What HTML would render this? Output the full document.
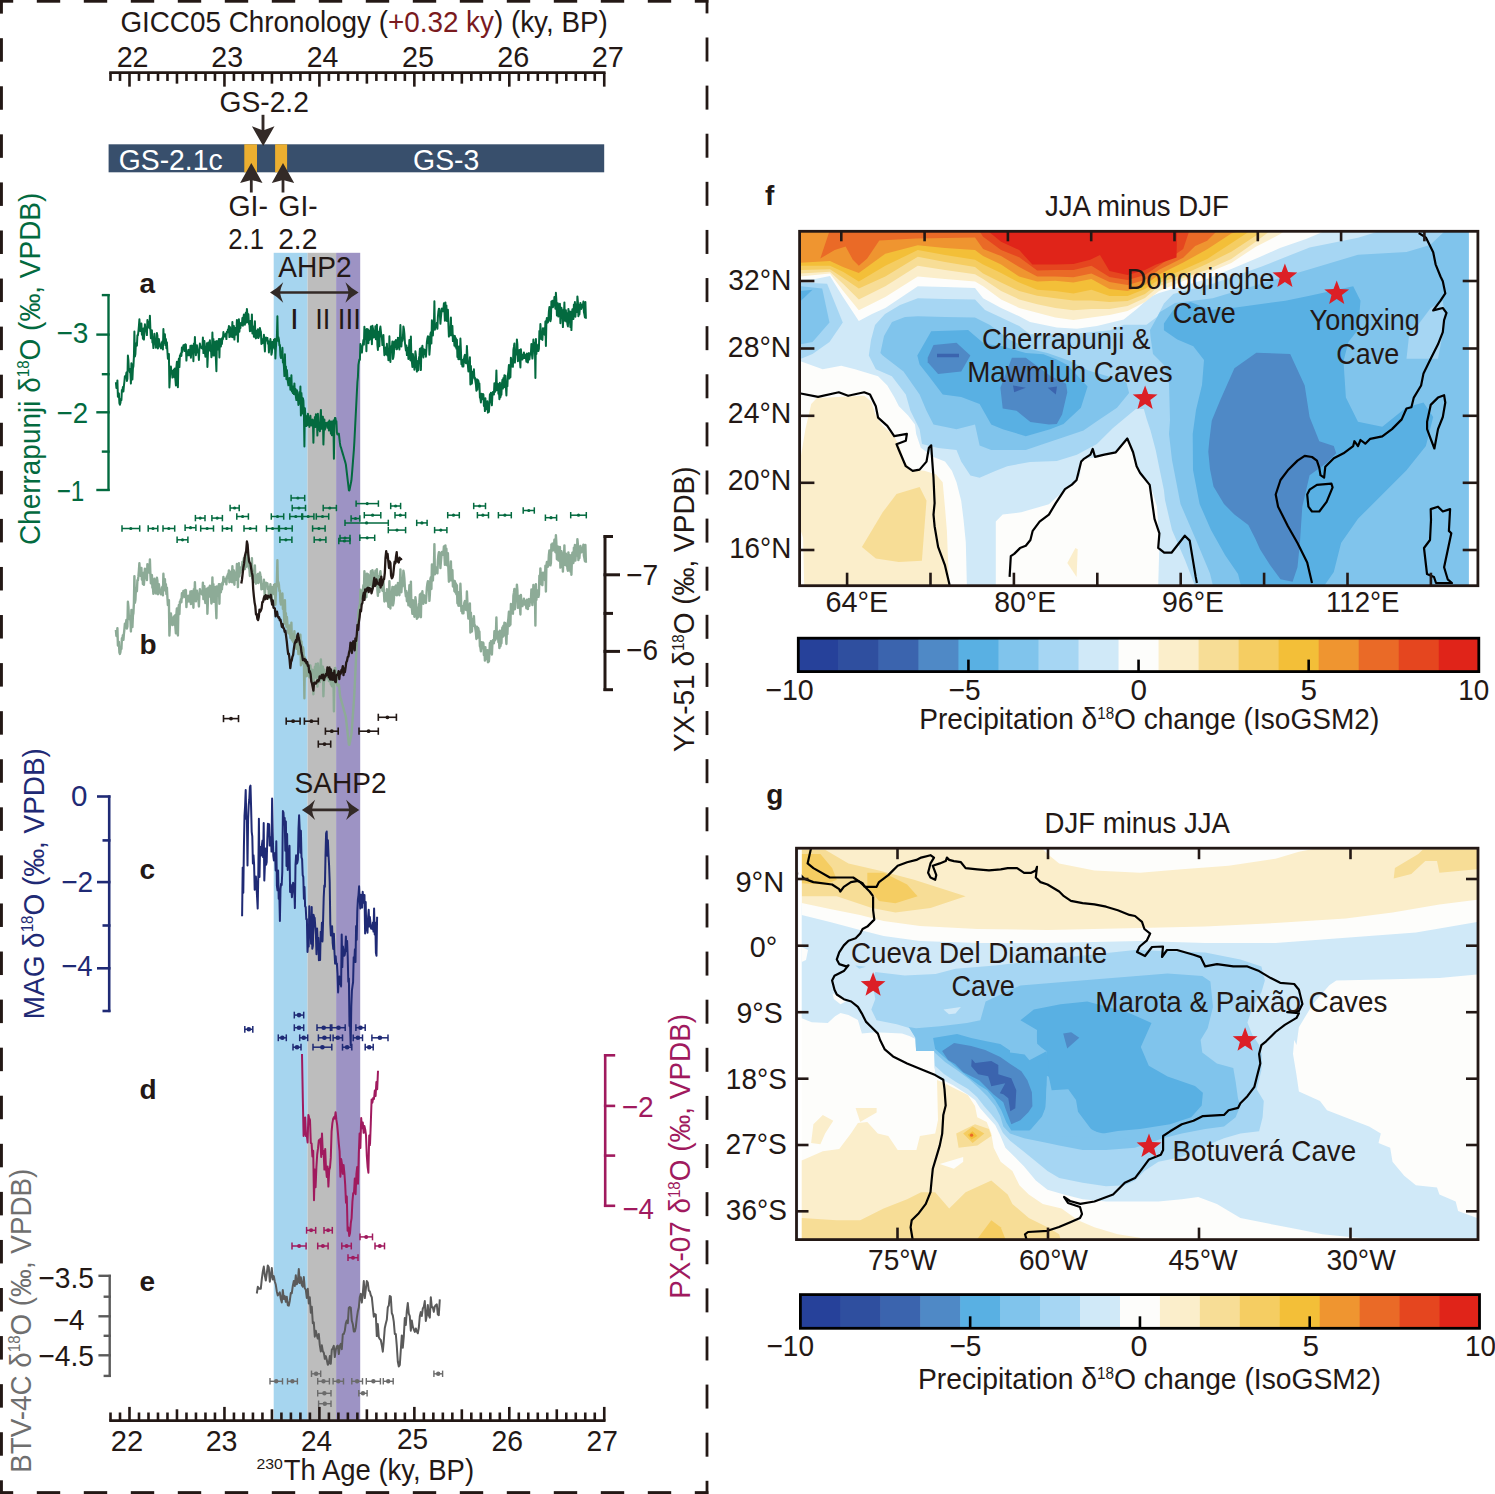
<!DOCTYPE html><html><head><meta charset="utf-8"><style>html,body{margin:0;padding:0;background:#fff;overflow:hidden}svg{display:block}</style></head><body>
<svg width="1495" height="1494" viewBox="0 0 1495 1494" font-family="'Liberation Sans', sans-serif">
<rect width="1495" height="1494" fill="#fff"/>
<rect x="273.7" y="252.8" width="33.9" height="1167" fill="#a6d5ef"/>
<rect x="307.6" y="252.8" width="28.5" height="1167" fill="#bdbdbd"/>
<rect x="336.1" y="252.8" width="24.1" height="1167" fill="#9d93c4"/>
<line x1="109.21" y1="72.65" x2="605.55" y2="72.65" stroke="#231815" stroke-width="2.8" />
<line x1="110.51" y1="72.65" x2="110.51" y2="80.95" stroke="#231815" stroke-width="2.6" />
<line x1="120.01" y1="72.65" x2="120.01" y2="80.95" stroke="#231815" stroke-width="2.6" />
<line x1="129.50" y1="72.65" x2="129.50" y2="86.65" stroke="#231815" stroke-width="2.6" />
<line x1="139.00" y1="72.65" x2="139.00" y2="80.95" stroke="#231815" stroke-width="2.6" />
<line x1="148.49" y1="72.65" x2="148.49" y2="80.95" stroke="#231815" stroke-width="2.6" />
<line x1="157.99" y1="72.65" x2="157.99" y2="80.95" stroke="#231815" stroke-width="2.6" />
<line x1="167.48" y1="72.65" x2="167.48" y2="80.95" stroke="#231815" stroke-width="2.6" />
<line x1="176.97" y1="72.65" x2="176.97" y2="83.65" stroke="#231815" stroke-width="2.6" />
<line x1="186.47" y1="72.65" x2="186.47" y2="80.95" stroke="#231815" stroke-width="2.6" />
<line x1="195.96" y1="72.65" x2="195.96" y2="80.95" stroke="#231815" stroke-width="2.6" />
<line x1="205.46" y1="72.65" x2="205.46" y2="80.95" stroke="#231815" stroke-width="2.6" />
<line x1="214.96" y1="72.65" x2="214.96" y2="80.95" stroke="#231815" stroke-width="2.6" />
<line x1="224.45" y1="72.65" x2="224.45" y2="86.65" stroke="#231815" stroke-width="2.6" />
<line x1="233.95" y1="72.65" x2="233.95" y2="80.95" stroke="#231815" stroke-width="2.6" />
<line x1="243.44" y1="72.65" x2="243.44" y2="80.95" stroke="#231815" stroke-width="2.6" />
<line x1="252.94" y1="72.65" x2="252.94" y2="80.95" stroke="#231815" stroke-width="2.6" />
<line x1="262.43" y1="72.65" x2="262.43" y2="80.95" stroke="#231815" stroke-width="2.6" />
<line x1="271.93" y1="72.65" x2="271.93" y2="83.65" stroke="#231815" stroke-width="2.6" />
<line x1="281.42" y1="72.65" x2="281.42" y2="80.95" stroke="#231815" stroke-width="2.6" />
<line x1="290.91" y1="72.65" x2="290.91" y2="80.95" stroke="#231815" stroke-width="2.6" />
<line x1="300.41" y1="72.65" x2="300.41" y2="80.95" stroke="#231815" stroke-width="2.6" />
<line x1="309.91" y1="72.65" x2="309.91" y2="80.95" stroke="#231815" stroke-width="2.6" />
<line x1="319.40" y1="72.65" x2="319.40" y2="86.65" stroke="#231815" stroke-width="2.6" />
<line x1="328.90" y1="72.65" x2="328.90" y2="80.95" stroke="#231815" stroke-width="2.6" />
<line x1="338.39" y1="72.65" x2="338.39" y2="80.95" stroke="#231815" stroke-width="2.6" />
<line x1="347.89" y1="72.65" x2="347.89" y2="80.95" stroke="#231815" stroke-width="2.6" />
<line x1="357.38" y1="72.65" x2="357.38" y2="80.95" stroke="#231815" stroke-width="2.6" />
<line x1="366.88" y1="72.65" x2="366.88" y2="83.65" stroke="#231815" stroke-width="2.6" />
<line x1="376.37" y1="72.65" x2="376.37" y2="80.95" stroke="#231815" stroke-width="2.6" />
<line x1="385.87" y1="72.65" x2="385.87" y2="80.95" stroke="#231815" stroke-width="2.6" />
<line x1="395.36" y1="72.65" x2="395.36" y2="80.95" stroke="#231815" stroke-width="2.6" />
<line x1="404.86" y1="72.65" x2="404.86" y2="80.95" stroke="#231815" stroke-width="2.6" />
<line x1="414.35" y1="72.65" x2="414.35" y2="86.65" stroke="#231815" stroke-width="2.6" />
<line x1="423.85" y1="72.65" x2="423.85" y2="80.95" stroke="#231815" stroke-width="2.6" />
<line x1="433.34" y1="72.65" x2="433.34" y2="80.95" stroke="#231815" stroke-width="2.6" />
<line x1="442.84" y1="72.65" x2="442.84" y2="80.95" stroke="#231815" stroke-width="2.6" />
<line x1="452.33" y1="72.65" x2="452.33" y2="80.95" stroke="#231815" stroke-width="2.6" />
<line x1="461.82" y1="72.65" x2="461.82" y2="83.65" stroke="#231815" stroke-width="2.6" />
<line x1="471.32" y1="72.65" x2="471.32" y2="80.95" stroke="#231815" stroke-width="2.6" />
<line x1="480.82" y1="72.65" x2="480.82" y2="80.95" stroke="#231815" stroke-width="2.6" />
<line x1="490.31" y1="72.65" x2="490.31" y2="80.95" stroke="#231815" stroke-width="2.6" />
<line x1="499.81" y1="72.65" x2="499.81" y2="80.95" stroke="#231815" stroke-width="2.6" />
<line x1="509.30" y1="72.65" x2="509.30" y2="86.65" stroke="#231815" stroke-width="2.6" />
<line x1="518.80" y1="72.65" x2="518.80" y2="80.95" stroke="#231815" stroke-width="2.6" />
<line x1="528.29" y1="72.65" x2="528.29" y2="80.95" stroke="#231815" stroke-width="2.6" />
<line x1="537.79" y1="72.65" x2="537.79" y2="80.95" stroke="#231815" stroke-width="2.6" />
<line x1="547.28" y1="72.65" x2="547.28" y2="80.95" stroke="#231815" stroke-width="2.6" />
<line x1="556.78" y1="72.65" x2="556.78" y2="83.65" stroke="#231815" stroke-width="2.6" />
<line x1="566.27" y1="72.65" x2="566.27" y2="80.95" stroke="#231815" stroke-width="2.6" />
<line x1="575.77" y1="72.65" x2="575.77" y2="80.95" stroke="#231815" stroke-width="2.6" />
<line x1="585.26" y1="72.65" x2="585.26" y2="80.95" stroke="#231815" stroke-width="2.6" />
<line x1="594.76" y1="72.65" x2="594.76" y2="80.95" stroke="#231815" stroke-width="2.6" />
<line x1="604.25" y1="72.65" x2="604.25" y2="86.65" stroke="#231815" stroke-width="2.6" />
<text x="116.64" y="67.0" font-size="29.6" fill="#231815" textLength="31.94" lengthAdjust="spacingAndGlyphs">22</text>
<text x="211.35" y="67.0" font-size="29.6" fill="#231815" textLength="31.73" lengthAdjust="spacingAndGlyphs">23</text>
<text x="306.66" y="67.0" font-size="29.6" fill="#231815" textLength="31.63" lengthAdjust="spacingAndGlyphs">24</text>
<text x="401.94" y="67.0" font-size="29.6" fill="#231815" textLength="31.94" lengthAdjust="spacingAndGlyphs">25</text>
<text x="497.14" y="67.0" font-size="29.6" fill="#231815" textLength="32.05" lengthAdjust="spacingAndGlyphs">26</text>
<text x="591.74" y="67.0" font-size="29.6" fill="#231815" textLength="32.16" lengthAdjust="spacingAndGlyphs">27</text>
<text x="120.4" y="32.2" font-size="29.6" fill="#231815" textLength="487.4" lengthAdjust="spacingAndGlyphs">GICC05 Chronology (<tspan fill="#7a1a1e">+0.32 ky</tspan>) (ky, BP)</text>
<rect x="108.6" y="144.3" width="495.6" height="28" fill="#384f6c"/>
<rect x="244.3" y="144.3" width="12.7" height="28" fill="#ecaf30"/>
<rect x="275.1" y="144.3" width="12.0" height="28" fill="#ecaf30"/>
<text x="118.77" y="169.6" font-size="29.6" fill="#fff" textLength="103.77" lengthAdjust="spacingAndGlyphs">GS-2.1c</text>
<text x="413.06" y="169.6" font-size="29.6" fill="#fff" textLength="66.27" lengthAdjust="spacingAndGlyphs">GS-3</text>
<text x="219.57" y="112.4" font-size="29.6" fill="#231815" textLength="89.33" lengthAdjust="spacingAndGlyphs">GS-2.2</text>
<line x1="263.00" y1="114.80" x2="263.00" y2="131.00" stroke="#332a27" stroke-width="2.9" />
<path d="M251.9,126.3 L263.1,130.4 L274.5,126.3 L263.2,146.1 Z" fill="#332a27"/>
<path d="M240.10000000000002,182.9 L251.3,179.9 L262.5,182.9 L251.3,163 Z" fill="#332a27"/>
<line x1="251.30" y1="180.00" x2="251.30" y2="192.50" stroke="#332a27" stroke-width="2.8" />
<path d="M271.8,182.9 L283.0,179.9 L294.2,182.9 L283.0,163 Z" fill="#332a27"/>
<line x1="283.00" y1="180.00" x2="283.00" y2="192.50" stroke="#332a27" stroke-width="2.8" />
<text x="228.46" y="215.6" font-size="29.6" fill="#231815" textLength="39.49" lengthAdjust="spacingAndGlyphs">GI-</text>
<text x="278.57" y="215.6" font-size="29.6" fill="#231815" textLength="39.07" lengthAdjust="spacingAndGlyphs">GI-</text>
<text x="228.30" y="249.3" font-size="29.6" fill="#231815" textLength="35.65" lengthAdjust="spacingAndGlyphs">2.1</text>
<text x="278.17" y="249.3" font-size="29.6" fill="#231815" textLength="39.21" lengthAdjust="spacingAndGlyphs">2.2</text>
<text x="278.31" y="277.4" font-size="29.6" fill="#231815" textLength="73.35" lengthAdjust="spacingAndGlyphs">AHP2</text>
<line x1="276.00" y1="292.50" x2="352.60" y2="292.50" stroke="#332a27" stroke-width="2.7" />
<path d="M270.0,292.5 Q277.5,288.3 283.2,282.3 Q280.5,288.5 280.0,292.5 Q280.5,296.5 283.2,302.7 Q277.5,296.7 270.0,292.5 Z" fill="#332a27"/>
<path d="M358.6,292.5 Q351.1,288.3 345.40000000000003,282.3 Q348.1,288.5 348.6,292.5 Q348.1,296.5 345.40000000000003,302.7 Q351.1,296.7 358.6,292.5 Z" fill="#332a27"/>
<text x="289.91" y="328.6" font-size="29.6" fill="#231815" textLength="8.81" lengthAdjust="spacingAndGlyphs">I</text>
<text x="315.32" y="328.6" font-size="29.6" fill="#231815" textLength="15.10" lengthAdjust="spacingAndGlyphs">II</text>
<text x="337.77" y="328.6" font-size="29.6" fill="#231815" textLength="23.13" lengthAdjust="spacingAndGlyphs">III</text>
<text x="139.6" y="292.5" font-size="28" fill="#231815" text-anchor="start" font-weight="bold" >a</text>
<text x="139.6" y="653.7" font-size="28" fill="#231815" text-anchor="start" font-weight="bold" >b</text>
<text x="139.6" y="878.6" font-size="28" fill="#231815" text-anchor="start" font-weight="bold" >c</text>
<text x="139.6" y="1098.8" font-size="28" fill="#231815" text-anchor="start" font-weight="bold" >d</text>
<text x="139.6" y="1290.6" font-size="28" fill="#231815" text-anchor="start" font-weight="bold" >e</text>
<line x1="108.50" y1="294.10" x2="108.50" y2="491.00" stroke="#036a3f" stroke-width="2.4" />
<line x1="96.30" y1="334.60" x2="109.70" y2="334.60" stroke="#036a3f" stroke-width="2.4" />
<line x1="96.30" y1="412.30" x2="109.70" y2="412.30" stroke="#036a3f" stroke-width="2.4" />
<line x1="96.30" y1="490.00" x2="109.70" y2="490.00" stroke="#036a3f" stroke-width="2.4" />
<line x1="101.80" y1="295.10" x2="109.70" y2="295.10" stroke="#036a3f" stroke-width="2.4" />
<line x1="101.80" y1="374.20" x2="109.70" y2="374.20" stroke="#036a3f" stroke-width="2.4" />
<line x1="101.80" y1="451.60" x2="109.70" y2="451.60" stroke="#036a3f" stroke-width="2.4" />
<text x="56.47" y="343.4" font-size="29.6" fill="#036a3f" textLength="32.01" lengthAdjust="spacingAndGlyphs">−3</text>
<text x="56.49" y="422.8" font-size="29.6" fill="#036a3f" textLength="31.56" lengthAdjust="spacingAndGlyphs">−2</text>
<text x="56.65" y="500.6" font-size="29.6" fill="#036a3f" textLength="27.63" lengthAdjust="spacingAndGlyphs">−1</text>
<text transform="translate(39.8,545.1) rotate(-90)" font-size="29.6" fill="#036a3f" textLength="352.4" lengthAdjust="spacingAndGlyphs">Cherrapunji δ<tspan font-size="16" dy="-10.5">18</tspan><tspan dy="10.5">O (‰, VPDB)</tspan></text>
<path d="M115.9,382.1 L116.4,387.9 L116.9,387.7 L117.4,380.4 L117.9,396.8 L118.4,396.8 L118.9,393.5 L119.4,403.2 L119.9,404.7 L120.4,403.0 L120.9,399.1 L121.4,400.1 L121.9,389.9 L122.4,391.2 L122.9,387.0 L123.4,391.5 L123.9,385.8 L124.4,381.5 L124.9,376.2 L125.4,377.2 L125.9,376.6 L126.4,372.6 L126.9,380.9 L127.4,378.8 L127.9,355.5 L128.4,360.3 L128.9,370.6 L129.4,368.8 L129.9,372.4 L130.4,372.1 L130.9,383.6 L131.4,363.3 L131.9,366.8 L132.4,379.5 L132.9,368.6 L133.4,366.4 L133.9,356.9 L134.4,331.4 L134.9,356.6 L135.4,354.0 L135.9,343.5 L136.4,344.6 L136.9,345.6 L137.4,335.2 L137.9,335.4 L138.4,331.6 L138.9,326.2 L139.4,319.2 L139.9,327.6 L140.4,331.0 L140.9,329.1 L141.4,323.6 L141.9,334.8 L142.4,328.7 L142.9,338.8 L143.4,328.4 L143.9,339.6 L144.4,332.8 L144.9,324.2 L145.4,329.0 L145.9,330.2 L146.4,330.6 L146.9,335.1 L147.4,320.0 L147.9,327.1 L148.4,321.9 L148.9,325.3 L149.4,328.2 L149.9,315.7 L150.4,329.8 L150.9,338.2 L151.4,331.2 L151.9,330.4 L152.4,342.4 L152.9,341.7 L153.4,348.1 L153.9,340.9 L154.4,333.8 L154.9,342.3 L155.4,340.2 L155.9,347.8 L156.4,344.2 L156.9,332.9 L157.4,335.6 L157.9,348.5 L158.4,347.2 L158.9,339.0 L159.4,343.0 L159.9,345.8 L160.4,345.9 L160.9,348.4 L161.4,344.6 L161.9,342.4 L162.4,341.4 L162.9,349.5 L163.4,329.1 L163.9,342.1 L164.4,343.2 L164.9,334.2 L165.4,345.1 L165.9,339.0 L166.4,348.3 L166.9,342.2 L167.4,351.2 L167.9,358.7 L168.4,357.6 L168.9,354.0 L169.4,387.4 L169.9,378.4 L170.4,369.5 L170.9,366.5 L171.4,372.1 L171.9,370.6 L172.4,377.6 L172.9,373.0 L173.4,373.4 L173.9,369.5 L174.4,377.3 L174.9,368.5 L175.4,379.5 L175.9,385.4 L176.4,367.1 L176.9,361.8 L177.4,378.1 L177.9,387.3 L178.4,362.7 L178.9,358.5 L179.4,367.1 L179.9,355.6 L180.4,355.0 L180.9,353.3 L181.4,356.0 L181.9,347.5 L182.4,351.9 L182.9,349.3 L183.4,345.3 L183.9,348.7 L184.4,345.0 L184.9,351.1 L185.4,344.3 L185.9,344.7 L186.4,360.6 L186.9,351.5 L187.4,351.6 L187.9,355.3 L188.4,349.7 L188.9,351.1 L189.4,355.3 L189.9,354.6 L190.4,345.8 L190.9,357.8 L191.4,348.7 L191.9,345.5 L192.4,346.2 L192.9,349.0 L193.4,361.2 L193.9,343.6 L194.4,351.5 L194.9,337.0 L195.4,349.9 L195.9,355.2 L196.4,347.9 L196.9,345.2 L197.4,350.2 L197.9,352.8 L198.4,352.2 L198.9,360.0 L199.4,348.8 L199.9,343.6 L200.4,346.3 L200.9,346.7 L201.4,348.0 L201.9,347.3 L202.4,348.7 L202.9,337.5 L203.4,353.1 L203.9,344.5 L204.4,341.0 L204.9,352.3 L205.4,356.7 L205.9,351.7 L206.4,349.8 L206.9,343.2 L207.4,366.9 L207.9,354.7 L208.4,342.4 L208.9,344.8 L209.4,350.3 L209.9,340.3 L210.4,351.0 L210.9,347.0 L211.4,357.2 L211.9,355.4 L212.4,332.5 L212.9,349.3 L213.4,338.9 L213.9,355.6 L214.4,349.6 L214.9,351.7 L215.4,341.6 L215.9,359.3 L216.4,371.2 L216.9,341.1 L217.4,349.8 L217.9,343.1 L218.4,347.0 L218.9,338.9 L219.4,357.4 L219.9,339.1 L220.4,342.4 L220.9,346.5 L221.4,339.0 L221.9,343.9 L222.4,337.5 L222.9,339.3 L223.4,332.1 L223.9,335.8 L224.4,336.5 L224.9,334.9 L225.4,336.5 L225.9,333.5 L226.4,339.1 L226.9,331.7 L227.4,332.7 L227.9,329.6 L228.4,330.5 L228.9,326.0 L229.4,337.1 L229.9,327.0 L230.4,329.5 L230.9,336.4 L231.4,336.8 L231.9,331.9 L232.4,322.0 L232.9,337.2 L233.4,336.2 L233.9,326.0 L234.4,339.6 L234.9,330.6 L235.4,328.0 L235.9,334.7 L236.4,332.1 L236.9,319.9 L237.4,321.5 L237.9,341.7 L238.4,325.9 L238.9,319.3 L239.4,331.7 L239.9,324.8 L240.4,328.1 L240.9,323.1 L241.4,323.9 L241.9,324.9 L242.4,317.9 L242.9,325.8 L243.4,317.8 L243.9,314.5 L244.4,319.4 L244.9,324.7 L245.4,315.8 L245.9,312.5 L246.4,322.6 L246.9,308.9 L247.4,314.4 L247.9,322.0 L248.4,314.3 L248.9,323.9 L249.4,324.3 L249.9,331.2 L250.4,321.0 L250.9,323.8 L251.4,330.7 L251.9,314.4 L252.4,333.5 L252.9,326.4 L253.4,326.6 L253.9,336.8 L254.4,331.7 L254.9,321.3 L255.4,336.6 L255.9,338.4 L256.4,330.8 L256.9,332.3 L257.4,337.4 L257.9,329.2 L258.4,338.0 L258.9,336.9 L259.4,333.6 L259.9,327.9 L260.4,330.6 L260.9,331.9 L261.4,343.9 L261.9,339.0 L262.4,343.3 L262.9,339.7 L263.4,340.9 L263.9,334.8 L264.4,344.1 L264.9,351.4 L265.4,338.9 L265.9,337.5 L266.4,340.6 L266.9,339.0 L267.4,338.0 L267.9,343.6 L268.4,341.3 L268.9,352.4 L269.4,344.0 L269.9,346.5 L270.4,339.1 L270.9,343.6 L271.4,354.8 L271.9,352.5 L272.4,341.9 L272.9,345.1 L273.4,347.2 L273.9,339.7 L274.4,348.6 L274.9,339.0 L275.4,358.4 L275.9,347.6 L276.4,341.0 L276.9,336.3 L277.4,316.3 L277.9,340.7 L278.4,337.2 L278.9,339.4 L279.4,345.4 L279.9,344.9 L280.4,355.4 L280.9,358.1 L281.4,352.7 L281.9,357.0 L282.4,347.7 L282.9,362.4 L283.4,360.7 L283.9,366.3 L284.4,376.1 L284.9,354.2 L285.4,372.3 L285.9,366.4 L286.4,379.2 L286.9,369.9 L287.4,377.1 L287.9,382.1 L288.4,385.3 L288.9,382.6 L289.4,378.0 L289.9,380.1 L290.4,389.7 L290.9,384.9 L291.4,375.2 L291.9,391.5 L292.4,389.5 L292.9,393.0 L293.4,386.2 L293.9,394.1 L294.4,383.4 L294.9,394.4 L295.4,388.8 L295.9,397.0 L296.4,400.0 L296.9,390.2 L297.4,395.4 L297.9,396.9 L298.4,404.9 L298.9,402.9 L299.4,391.9 L299.9,403.3 L300.4,386.6 L300.9,415.4 L301.4,392.9 L301.9,400.9 L302.4,413.5 L302.9,398.3 L303.4,400.7 L303.9,412.7 L304.4,446.5 L304.9,408.2 L305.4,417.0 L305.9,415.8 L306.4,425.9 L306.9,417.9 L307.4,425.2 L307.9,413.7 L308.4,418.3 L308.9,419.1 L309.4,426.9 L309.9,423.7 L310.4,415.7 L310.9,424.7 L311.4,425.5 L311.9,420.3 L312.4,419.6 L312.9,420.2 L313.4,442.7 L313.9,423.0 L314.4,423.5 L314.9,416.9 L315.4,427.0 L315.9,414.2 L316.4,419.5 L316.9,420.2 L317.4,435.6 L317.9,413.7 L318.4,427.2 L318.9,429.8 L319.4,426.3 L319.9,431.3 L320.4,417.8 L320.9,409.9 L321.4,428.7 L321.9,416.6 L322.4,422.0 L322.9,416.7 L323.4,444.6 L323.9,429.3 L324.4,419.6 L324.9,429.6 L325.4,424.7 L325.9,423.1 L326.4,424.4 L326.9,422.7 L327.4,427.8 L327.9,426.0 L328.4,422.0 L328.9,430.4 L329.4,420.5 L329.9,426.1 L330.4,427.0 L330.9,433.6 L331.4,421.4 L331.9,435.3 L332.4,425.7 L332.9,423.5 L333.4,420.6 L333.9,458.8 L334.4,425.2 L334.9,418.1 L335.4,418.0 L335.9,421.8 L336.4,421.3 L336.9,432.5 L337.4,434.5 L337.9,433.7 L338.4,433.7 L338.9,433.8 L339.4,438.5 L339.9,442.9 L340.4,446.1 L340.9,447.3 L341.4,449.0 L341.9,450.7 L342.4,452.4 L342.9,454.1 L343.4,455.8 L343.9,457.5 L344.4,459.2 L344.9,460.9 L345.4,462.6 L345.9,464.8 L346.4,469.1 L346.9,473.3 L347.4,477.6 L347.9,481.8 L348.4,486.1 L348.9,490.3 L349.4,490.5 L349.9,488.0 L350.4,485.5 L350.9,483.0 L351.4,480.5 L351.9,474.9 L352.4,468.6 L352.9,462.2 L353.4,455.9 L353.9,449.5 L354.4,441.1 L354.9,431.2 L355.4,421.4 L355.9,411.5 L356.4,401.7 L356.9,391.8 L357.4,382.0 L357.9,377.1 L358.4,364.9 L358.9,362.0 L359.4,359.4 L359.9,359.8 L360.4,344.1 L360.9,350.2 L361.4,347.9 L361.9,352.6 L362.4,346.2 L362.9,344.5 L363.4,339.9 L363.9,344.6 L364.4,326.7 L364.9,334.9 L365.4,338.7 L365.9,329.8 L366.4,351.3 L366.9,328.9 L367.4,330.5 L367.9,329.4 L368.4,343.3 L368.9,330.6 L369.4,339.9 L369.9,339.0 L370.4,336.6 L370.9,326.6 L371.4,330.6 L371.9,344.3 L372.4,325.7 L372.9,328.1 L373.4,331.9 L373.9,337.6 L374.4,333.8 L374.9,336.8 L375.4,326.3 L375.9,339.3 L376.4,337.6 L376.9,324.8 L377.4,344.8 L377.9,350.0 L378.4,331.7 L378.9,337.4 L379.4,346.3 L379.9,329.2 L380.4,326.6 L380.9,331.5 L381.4,336.6 L381.9,337.2 L382.4,345.1 L382.9,343.6 L383.4,334.9 L383.9,346.7 L384.4,355.3 L384.9,352.1 L385.4,352.1 L385.9,347.3 L386.4,354.5 L386.9,343.7 L387.4,355.5 L387.9,351.5 L388.4,360.3 L388.9,357.4 L389.4,336.3 L389.9,356.1 L390.4,361.9 L390.9,346.5 L391.4,349.2 L391.9,347.0 L392.4,341.6 L392.9,358.9 L393.4,357.2 L393.9,353.1 L394.4,341.6 L394.9,346.1 L395.4,347.0 L395.9,340.1 L396.4,349.3 L396.9,349.3 L397.4,347.7 L397.9,337.8 L398.4,340.7 L398.9,338.3 L399.4,349.5 L399.9,338.7 L400.4,325.0 L400.9,338.2 L401.4,346.5 L401.9,338.2 L402.4,340.9 L402.9,337.3 L403.4,326.4 L403.9,328.9 L404.4,333.9 L404.9,342.3 L405.4,346.5 L405.9,350.4 L406.4,345.5 L406.9,355.1 L407.4,348.9 L407.9,347.8 L408.4,359.0 L408.9,349.6 L409.4,339.9 L409.9,351.7 L410.4,360.3 L410.9,336.5 L411.4,360.6 L411.9,361.9 L412.4,367.0 L412.9,354.0 L413.4,359.9 L413.9,358.9 L414.4,369.7 L414.9,363.8 L415.4,351.3 L415.9,355.4 L416.4,364.6 L416.9,371.6 L417.4,361.9 L417.9,361.0 L418.4,370.2 L418.9,358.1 L419.4,355.9 L419.9,348.7 L420.4,353.9 L420.9,370.1 L421.4,347.5 L421.9,355.6 L422.4,345.7 L422.9,353.0 L423.4,357.5 L423.9,349.3 L424.4,354.1 L424.9,352.9 L425.4,350.0 L425.9,356.7 L426.4,349.7 L426.9,341.9 L427.4,338.4 L427.9,336.2 L428.4,343.1 L428.9,337.0 L429.4,354.7 L429.9,348.0 L430.4,334.2 L430.9,332.3 L431.4,343.6 L431.9,320.3 L432.4,328.0 L432.9,335.5 L433.4,322.8 L433.9,324.3 L434.4,301.2 L434.9,329.7 L435.4,325.7 L435.9,326.6 L436.4,327.1 L436.9,322.8 L437.4,328.8 L437.9,316.6 L438.4,311.5 L438.9,308.7 L439.4,308.9 L439.9,314.8 L440.4,323.8 L440.9,317.7 L441.4,312.2 L441.9,308.5 L442.4,311.1 L442.9,311.2 L443.4,309.4 L443.9,303.3 L444.4,310.2 L444.9,320.7 L445.4,302.4 L445.9,315.7 L446.4,305.4 L446.9,321.0 L447.4,316.7 L447.9,309.8 L448.4,324.6 L448.9,336.6 L449.4,327.4 L449.9,335.3 L450.4,329.0 L450.9,317.5 L451.4,335.2 L451.9,331.0 L452.4,325.9 L452.9,341.1 L453.4,339.4 L453.9,335.8 L454.4,345.6 L454.9,336.1 L455.4,346.8 L455.9,338.2 L456.4,348.6 L456.9,339.8 L457.4,357.0 L457.9,350.7 L458.4,359.2 L458.9,346.5 L459.4,349.9 L459.9,359.3 L460.4,338.5 L460.9,350.1 L461.4,364.3 L461.9,362.1 L462.4,366.5 L462.9,359.8 L463.4,366.5 L463.9,359.6 L464.4,356.3 L464.9,354.9 L465.4,362.5 L465.9,363.2 L466.4,363.3 L466.9,345.9 L467.4,356.0 L467.9,365.7 L468.4,371.4 L468.9,366.6 L469.4,365.4 L469.9,357.2 L470.4,384.5 L470.9,365.9 L471.4,383.7 L471.9,383.5 L472.4,376.2 L472.9,371.6 L473.4,376.5 L473.9,369.2 L474.4,378.5 L474.9,377.6 L475.4,381.4 L475.9,384.6 L476.4,390.7 L476.9,379.2 L477.4,389.6 L477.9,379.9 L478.4,380.9 L478.9,384.2 L479.4,383.6 L479.9,397.3 L480.4,398.6 L480.9,402.4 L481.4,393.7 L481.9,399.4 L482.4,395.8 L482.9,393.9 L483.4,394.6 L483.9,405.9 L484.4,399.0 L484.9,411.1 L485.4,398.3 L485.9,409.6 L486.4,406.2 L486.9,405.7 L487.4,401.2 L487.9,412.7 L488.4,409.2 L488.9,411.9 L489.4,404.3 L489.9,394.3 L490.4,398.9 L490.9,392.8 L491.4,401.8 L491.9,405.3 L492.4,395.2 L492.9,391.9 L493.4,392.2 L493.9,394.6 L494.4,383.3 L494.9,392.1 L495.4,391.2 L495.9,385.5 L496.4,370.4 L496.9,389.9 L497.4,383.8 L497.9,383.8 L498.4,393.7 L498.9,390.3 L499.4,399.2 L499.9,382.8 L500.4,397.4 L500.9,394.7 L501.4,394.8 L501.9,384.3 L502.4,379.8 L502.9,388.6 L503.4,378.0 L503.9,386.7 L504.4,375.3 L504.9,387.3 L505.4,375.7 L505.9,386.9 L506.4,395.4 L506.9,382.0 L507.4,386.1 L507.9,375.0 L508.4,371.1 L508.9,365.1 L509.4,378.4 L509.9,369.3 L510.4,377.3 L510.9,357.7 L511.4,361.2 L511.9,360.8 L512.4,366.6 L512.9,366.8 L513.4,349.8 L513.9,347.0 L514.4,343.4 L514.9,362.6 L515.4,354.0 L515.9,350.7 L516.4,354.6 L516.9,339.4 L517.4,344.7 L517.9,361.3 L518.4,358.2 L518.9,356.9 L519.4,350.0 L519.9,360.0 L520.4,367.5 L520.9,349.2 L521.4,357.1 L521.9,354.5 L522.4,359.6 L522.9,357.7 L523.4,356.9 L523.9,352.5 L524.4,358.1 L524.9,354.6 L525.4,357.7 L525.9,357.9 L526.4,361.7 L526.9,353.5 L527.4,354.5 L527.9,362.5 L528.4,353.9 L528.9,353.1 L529.4,359.4 L529.9,355.1 L530.4,353.4 L530.9,353.6 L531.4,344.0 L531.9,353.9 L532.4,358.6 L532.9,353.4 L533.4,339.6 L533.9,350.4 L534.4,342.5 L534.9,346.1 L535.4,378.0 L535.9,338.9 L536.4,353.9 L536.9,344.6 L537.4,349.4 L537.9,347.8 L538.4,351.0 L538.9,348.7 L539.4,330.9 L539.9,338.9 L540.4,324.1 L540.9,333.2 L541.4,339.0 L541.9,338.9 L542.4,339.9 L542.9,328.2 L543.4,331.2 L543.9,328.4 L544.4,334.3 L544.9,335.0 L545.4,321.6 L545.9,346.0 L546.4,321.4 L546.9,317.9 L547.4,322.7 L547.9,322.4 L548.4,319.9 L548.9,311.3 L549.4,307.1 L549.9,313.3 L550.4,321.2 L550.9,319.1 L551.4,301.4 L551.9,302.0 L552.4,300.7 L552.9,307.2 L553.4,304.8 L553.9,304.9 L554.4,297.0 L554.9,303.5 L555.4,308.7 L555.9,292.8 L556.4,300.7 L556.9,315.4 L557.4,303.0 L557.9,303.5 L558.4,316.6 L558.9,314.5 L559.4,312.8 L559.9,303.8 L560.4,323.3 L560.9,312.6 L561.4,307.7 L561.9,310.1 L562.4,310.1 L562.9,327.1 L563.4,315.8 L563.9,315.5 L564.4,302.4 L564.9,320.7 L565.4,310.2 L565.9,310.3 L566.4,321.6 L566.9,313.0 L567.4,324.1 L567.9,326.4 L568.4,308.9 L568.9,319.7 L569.4,311.3 L569.9,321.2 L570.4,327.1 L570.9,311.8 L571.4,330.1 L571.9,315.9 L572.4,309.3 L572.9,314.6 L573.4,319.0 L573.9,304.4 L574.4,311.7 L574.9,302.0 L575.4,316.7 L575.9,309.0 L576.4,304.2 L576.9,312.0 L577.4,296.4 L577.9,301.8 L578.4,316.2 L578.9,304.7 L579.4,314.4 L579.9,307.8 L580.4,302.9 L580.9,306.3 L581.4,308.9 L581.9,306.5 L582.4,304.5 L582.9,305.4 L583.4,301.6 L583.9,312.1 L584.4,314.4 L584.9,317.2 L585.4,302.0 L585.9,318.7" fill="none" stroke="#036a3f" stroke-width="2.0" stroke-linejoin="round" />
<line x1="605.00" y1="535.20" x2="605.00" y2="691.00" stroke="#231815" stroke-width="3.0" />
<line x1="603.50" y1="574.80" x2="620.00" y2="574.80" stroke="#231815" stroke-width="3.0" />
<line x1="603.50" y1="651.40" x2="620.00" y2="651.40" stroke="#231815" stroke-width="3.0" />
<line x1="603.50" y1="536.50" x2="613.00" y2="536.50" stroke="#231815" stroke-width="3.0" />
<line x1="603.50" y1="613.40" x2="613.00" y2="613.40" stroke="#231815" stroke-width="3.0" />
<line x1="603.50" y1="689.70" x2="613.00" y2="689.70" stroke="#231815" stroke-width="3.0" />
<text x="626.07" y="585.0" font-size="29.6" fill="#231815" textLength="32.11" lengthAdjust="spacingAndGlyphs">−7</text>
<text x="626.08" y="660.2" font-size="29.6" fill="#231815" textLength="31.90" lengthAdjust="spacingAndGlyphs">−6</text>
<text transform="translate(694.0,752.1) rotate(-90)" font-size="29.6" fill="#231815" textLength="285.7" lengthAdjust="spacingAndGlyphs">YX-51 δ<tspan font-size="16" dy="-10.5">18</tspan><tspan dy="10.5">O (‰, VPDB)</tspan></text>
<path d="M115.9,630.0 L116.4,636.0 L116.9,635.8 L117.4,628.1 L117.9,645.5 L118.4,645.5 L118.9,642.0 L119.4,652.3 L119.9,653.9 L120.4,652.1 L120.9,648.0 L121.4,649.0 L121.9,638.2 L122.4,639.6 L122.9,635.2 L123.4,639.9 L123.9,633.8 L124.4,629.3 L124.9,623.7 L125.4,624.8 L125.9,624.1 L126.4,619.9 L126.9,628.6 L127.4,626.4 L127.9,601.8 L128.4,606.8 L128.9,617.7 L129.4,615.8 L129.9,619.6 L130.4,619.3 L130.9,631.5 L131.4,610.0 L131.9,613.7 L132.4,627.1 L132.9,615.6 L133.4,613.3 L133.9,603.2 L134.4,576.1 L134.9,602.9 L135.4,600.1 L135.9,589.0 L136.4,590.2 L136.9,591.2 L137.4,580.2 L137.9,580.4 L138.4,576.4 L138.9,570.7 L139.4,563.2 L139.9,572.1 L140.4,575.7 L140.9,573.7 L141.4,567.9 L141.9,579.7 L142.4,573.3 L142.9,584.1 L143.4,573.0 L143.9,584.9 L144.4,577.7 L144.9,568.6 L145.4,573.6 L145.9,575.0 L146.4,575.3 L146.9,580.1 L147.4,564.1 L147.9,571.6 L148.4,566.2 L148.9,569.7 L149.4,572.7 L149.9,559.5 L150.4,574.5 L150.9,583.4 L151.4,575.9 L151.9,575.1 L152.4,587.8 L152.9,587.1 L153.4,593.8 L153.9,586.2 L154.4,578.8 L154.9,587.8 L155.4,585.6 L155.9,593.5 L156.4,589.7 L156.9,577.8 L157.4,580.6 L157.9,594.3 L158.4,592.9 L158.9,584.3 L159.4,588.5 L159.9,591.4 L160.4,591.5 L160.9,594.2 L161.4,590.2 L161.9,587.9 L162.4,586.8 L162.9,595.4 L163.4,573.7 L163.9,587.6 L164.4,588.7 L164.9,579.1 L165.4,590.7 L165.9,584.2 L166.4,594.1 L166.9,587.6 L167.4,597.2 L167.9,605.1 L168.4,604.0 L168.9,600.1 L169.4,635.6 L169.9,626.0 L170.4,616.6 L170.9,613.4 L171.4,619.4 L171.9,617.7 L172.4,625.1 L172.9,620.3 L173.4,620.7 L173.9,616.5 L174.4,624.8 L174.9,615.5 L175.4,627.2 L175.9,633.4 L176.4,614.0 L176.9,608.4 L177.4,625.7 L177.9,635.5 L178.4,609.4 L178.9,604.9 L179.4,614.1 L179.9,601.8 L180.4,601.2 L180.9,599.3 L181.4,602.2 L181.9,593.2 L182.4,597.9 L182.9,595.1 L183.4,590.9 L183.9,594.6 L184.4,590.6 L184.9,597.1 L185.4,589.9 L185.9,590.3 L186.4,607.1 L186.9,597.4 L187.4,597.6 L187.9,601.5 L188.4,595.6 L188.9,597.0 L189.4,601.5 L189.9,600.8 L190.4,591.4 L190.9,604.1 L191.4,594.5 L191.9,591.1 L192.4,591.8 L192.9,594.9 L193.4,607.8 L193.9,589.1 L194.4,597.5 L194.9,582.2 L195.4,595.8 L195.9,601.4 L196.4,593.6 L196.9,590.8 L197.4,596.1 L197.9,598.8 L198.4,598.3 L198.9,606.5 L199.4,594.7 L199.9,589.1 L200.4,591.9 L200.9,592.4 L201.4,593.8 L201.9,593.0 L202.4,594.5 L202.9,582.6 L203.4,599.1 L203.9,590.1 L204.4,586.3 L204.9,598.3 L205.4,603.0 L205.9,597.7 L206.4,595.7 L206.9,588.7 L207.4,613.8 L207.9,600.9 L208.4,587.8 L208.9,590.3 L209.4,596.2 L209.9,585.6 L210.4,597.0 L210.9,592.7 L211.4,603.5 L211.9,601.6 L212.4,577.4 L212.9,595.2 L213.4,584.1 L213.9,601.8 L214.4,595.4 L214.9,597.7 L215.4,587.0 L215.9,605.7 L216.4,618.3 L216.9,586.4 L217.4,595.6 L217.9,588.6 L218.4,592.7 L218.9,584.1 L219.4,603.7 L219.9,584.3 L220.4,587.8 L220.9,592.2 L221.4,584.3 L221.9,589.4 L222.4,582.6 L222.9,584.6 L223.4,576.9 L223.9,580.9 L224.4,581.5 L224.9,579.8 L225.4,581.5 L225.9,578.4 L226.4,584.4 L226.9,576.5 L227.4,577.6 L227.9,574.2 L228.4,575.2 L228.9,570.5 L229.4,582.3 L229.9,571.5 L230.4,574.2 L230.9,581.5 L231.4,581.9 L231.9,576.7 L232.4,566.2 L232.9,582.3 L233.4,581.3 L233.9,570.5 L234.4,584.8 L234.9,575.3 L235.4,572.6 L235.9,579.7 L236.4,576.9 L236.9,564.0 L237.4,565.7 L237.9,587.1 L238.4,570.4 L238.9,563.3 L239.4,576.5 L239.9,569.2 L240.4,572.7 L240.9,567.4 L241.4,568.3 L241.9,569.3 L242.4,561.9 L242.9,570.3 L243.4,561.8 L243.9,558.2 L244.4,563.5 L244.9,569.1 L245.4,559.6 L245.9,556.1 L246.4,566.8 L246.9,552.3 L247.4,558.1 L247.9,566.2 L248.4,558.1 L248.9,568.2 L249.4,568.7 L249.9,576.0 L250.4,565.2 L250.9,568.1 L251.4,575.4 L251.9,558.2 L252.4,578.4 L252.9,570.8 L253.4,571.1 L253.9,581.9 L254.4,576.5 L254.9,565.5 L255.4,581.7 L255.9,583.6 L256.4,575.5 L256.9,577.1 L257.4,582.6 L257.9,573.9 L258.4,583.1 L258.9,582.0 L259.4,578.6 L259.9,572.5 L260.4,575.3 L260.9,576.7 L261.4,589.4 L261.9,584.2 L262.4,588.8 L262.9,585.0 L263.4,586.2 L263.9,579.8 L264.4,589.7 L264.9,597.4 L265.4,584.1 L265.9,582.7 L266.4,585.9 L266.9,584.2 L267.4,583.2 L267.9,589.1 L268.4,586.7 L268.9,598.4 L269.4,589.5 L269.9,592.2 L270.4,584.3 L270.9,589.1 L271.4,601.0 L271.9,598.6 L272.4,587.3 L272.9,590.7 L273.4,592.9 L273.9,585.0 L274.4,594.4 L274.9,584.3 L275.4,604.8 L275.9,593.4 L276.4,586.4 L276.9,581.3 L277.4,560.2 L277.9,586.1 L278.4,582.3 L278.9,584.7 L279.4,591.1 L279.9,590.5 L280.4,601.6 L280.9,604.5 L281.4,598.8 L281.9,603.3 L282.4,593.5 L282.9,609.0 L283.4,607.2 L283.9,613.2 L284.4,623.6 L284.9,600.3 L285.4,619.5 L285.9,613.2 L286.4,626.9 L286.9,617.0 L287.4,624.6 L287.9,629.9 L288.4,633.3 L288.9,630.5 L289.4,625.5 L289.9,627.8 L290.4,638.0 L290.9,632.9 L291.4,622.6 L291.9,639.9 L292.4,637.8 L292.9,641.5 L293.4,634.3 L293.9,642.7 L294.4,631.3 L294.9,643.0 L295.4,637.1 L295.9,645.7 L296.4,648.9 L296.9,638.5 L297.4,644.0 L297.9,645.6 L298.4,654.1 L298.9,652.0 L299.4,640.4 L299.9,652.3 L300.4,634.7 L300.9,665.3 L301.4,641.4 L301.9,649.9 L302.4,663.2 L302.9,647.1 L303.4,649.6 L303.9,662.3 L304.4,698.2 L304.9,657.5 L305.4,666.9 L305.9,665.6 L306.4,676.3 L306.9,667.8 L307.4,675.6 L307.9,663.4 L308.4,668.3 L308.9,669.1 L309.4,677.4 L309.9,674.0 L310.4,665.5 L310.9,675.1 L311.4,675.9 L311.9,670.4 L312.4,669.7 L312.9,670.3 L313.4,694.2 L313.9,673.3 L314.4,673.8 L314.9,666.8 L315.4,677.6 L315.9,663.9 L316.4,669.5 L316.9,670.3 L317.4,686.6 L317.9,663.4 L318.4,677.7 L318.9,680.5 L319.4,676.8 L319.9,682.1 L320.4,667.8 L320.9,659.4 L321.4,679.4 L321.9,666.5 L322.4,672.2 L322.9,666.6 L323.4,696.2 L323.9,680.0 L324.4,669.6 L324.9,680.2 L325.4,675.1 L325.9,673.4 L326.4,674.7 L326.9,673.0 L327.4,678.4 L327.9,676.4 L328.4,672.2 L328.9,681.1 L329.4,670.6 L329.9,676.5 L330.4,677.5 L330.9,684.5 L331.4,671.5 L331.9,686.3 L332.4,676.1 L332.9,673.8 L333.4,670.7 L333.9,711.2 L334.4,675.6 L334.9,668.1 L335.4,668.0 L335.9,672.0 L336.4,671.5 L336.9,683.3 L337.4,685.5 L337.9,684.6 L338.4,684.7 L338.9,684.7 L339.4,689.7 L339.9,694.4 L340.4,697.7 L340.9,699.1 L341.4,700.9 L341.9,702.7 L342.4,704.5 L342.9,706.3 L343.4,708.1 L343.9,709.9 L344.4,711.7 L344.9,713.5 L345.4,715.3 L345.9,717.6 L346.4,722.1 L346.9,726.6 L347.4,731.1 L347.9,735.6 L348.4,740.1 L348.9,744.6 L349.4,744.8 L349.9,742.2 L350.4,739.5 L350.9,736.9 L351.4,734.2 L351.9,728.3 L352.4,721.6 L352.9,714.9 L353.4,708.1 L353.9,701.4 L354.4,692.4 L354.9,682.0 L355.4,671.6 L355.9,661.1 L356.4,650.7 L356.9,640.2 L357.4,629.8 L357.9,624.6 L358.4,611.7 L358.9,608.6 L359.4,605.8 L359.9,606.3 L360.4,589.7 L360.9,596.1 L361.4,593.7 L361.9,598.6 L362.4,591.9 L362.9,590.0 L363.4,585.2 L363.9,590.1 L364.4,571.2 L364.9,579.8 L365.4,584.0 L365.9,574.4 L366.4,597.3 L366.9,573.6 L367.4,575.2 L367.9,574.0 L368.4,588.8 L368.9,575.3 L369.4,585.2 L369.9,584.3 L370.4,581.7 L370.9,571.1 L371.4,575.3 L371.9,589.9 L372.4,570.1 L372.9,572.7 L373.4,576.7 L373.9,582.7 L374.4,578.7 L374.9,581.9 L375.4,570.7 L375.9,584.5 L376.4,582.7 L376.9,569.2 L377.4,590.4 L377.9,595.9 L378.4,576.5 L378.9,582.6 L379.4,592.0 L379.9,573.8 L380.4,571.1 L380.9,576.3 L381.4,581.7 L381.9,582.3 L382.4,590.7 L382.9,589.1 L383.4,579.8 L383.9,592.3 L384.4,601.5 L384.9,598.1 L385.4,598.1 L385.9,593.0 L386.4,600.6 L386.9,589.2 L387.4,601.7 L387.9,597.5 L388.4,606.8 L388.9,603.7 L389.4,581.3 L389.9,602.3 L390.4,608.5 L390.9,592.2 L391.4,595.0 L391.9,592.7 L392.4,587.0 L392.9,605.4 L393.4,603.5 L393.9,599.2 L394.4,587.0 L394.9,591.8 L395.4,592.7 L395.9,585.4 L396.4,595.1 L396.9,595.2 L397.4,593.5 L397.9,583.0 L398.4,586.0 L398.9,583.5 L399.4,595.3 L399.9,583.9 L400.4,569.4 L400.9,583.4 L401.4,592.2 L401.9,583.4 L402.4,586.3 L402.9,582.4 L403.4,570.8 L403.9,573.5 L404.4,578.8 L404.9,587.7 L405.4,592.2 L405.9,596.3 L406.4,591.2 L406.9,601.3 L407.4,594.8 L407.9,593.6 L408.4,605.4 L408.9,595.4 L409.4,585.2 L409.9,597.7 L410.4,606.9 L410.9,581.6 L411.4,607.1 L411.9,608.5 L412.4,613.9 L412.9,600.1 L413.4,606.3 L413.9,605.4 L414.4,616.8 L414.9,610.5 L415.4,597.3 L415.9,601.6 L416.4,611.4 L416.9,618.8 L417.4,608.5 L417.9,607.5 L418.4,617.3 L418.9,604.5 L419.4,602.2 L419.9,594.5 L420.4,600.0 L420.9,617.2 L421.4,593.2 L421.9,601.8 L422.4,591.3 L422.9,599.1 L423.4,603.8 L423.9,595.2 L424.4,600.3 L424.9,599.0 L425.4,595.9 L425.9,603.0 L426.4,595.6 L426.9,587.3 L427.4,583.6 L427.9,581.2 L428.4,588.6 L428.9,582.1 L429.4,600.9 L429.9,593.8 L430.4,579.1 L430.9,577.1 L431.4,589.1 L431.9,564.4 L432.4,572.6 L432.9,580.5 L433.4,567.0 L433.9,568.6 L434.4,544.1 L434.9,574.4 L435.4,570.2 L435.9,571.1 L436.4,571.6 L436.9,567.1 L437.4,573.4 L437.9,560.5 L438.4,555.1 L438.9,552.1 L439.4,552.3 L439.9,558.5 L440.4,568.1 L440.9,561.7 L441.4,555.8 L441.9,551.9 L442.4,554.7 L442.9,554.7 L443.4,552.9 L443.9,546.4 L444.4,553.7 L444.9,564.9 L445.4,545.4 L445.9,559.5 L446.4,548.7 L446.9,565.2 L447.4,560.5 L447.9,553.2 L448.4,569.0 L448.9,581.7 L449.4,571.9 L449.9,580.3 L450.4,573.6 L450.9,561.4 L451.4,580.2 L451.9,575.7 L452.4,570.3 L452.9,586.5 L453.4,584.7 L453.9,580.8 L454.4,591.3 L454.9,581.2 L455.4,592.5 L455.9,583.4 L456.4,594.4 L456.9,585.1 L457.4,603.3 L457.9,596.6 L458.4,605.7 L458.9,592.2 L459.4,595.8 L459.9,605.8 L460.4,583.7 L460.9,596.0 L461.4,611.1 L461.9,608.7 L462.4,613.4 L462.9,606.3 L463.4,613.4 L463.9,606.1 L464.4,602.5 L464.9,601.1 L465.4,609.2 L465.9,609.9 L466.4,610.0 L466.9,591.5 L467.4,602.3 L467.9,612.5 L468.4,618.6 L468.9,613.5 L469.4,612.2 L469.9,603.5 L470.4,632.5 L470.9,612.7 L471.4,631.6 L471.9,631.4 L472.4,623.6 L472.9,618.7 L473.4,624.0 L473.9,616.2 L474.4,626.1 L474.9,625.1 L475.4,629.2 L475.9,632.6 L476.4,639.0 L476.9,626.8 L477.4,637.9 L477.9,627.6 L478.4,628.7 L478.9,632.2 L479.4,631.5 L479.9,646.1 L480.4,647.4 L480.9,651.4 L481.4,642.2 L481.9,648.3 L482.4,644.4 L482.9,642.4 L483.4,643.2 L483.9,655.1 L484.4,647.8 L484.9,660.6 L485.4,647.1 L485.9,659.0 L486.4,655.5 L486.9,655.0 L487.4,650.2 L487.9,662.3 L488.4,658.6 L488.9,661.5 L489.4,653.4 L489.9,642.9 L490.4,647.7 L490.9,641.2 L491.4,650.8 L491.9,654.5 L492.4,643.8 L492.9,640.3 L493.4,640.6 L493.9,643.2 L494.4,631.2 L494.9,640.5 L495.4,639.6 L495.9,633.6 L496.4,617.5 L496.9,638.2 L497.4,631.7 L497.9,631.7 L498.4,642.2 L498.9,638.6 L499.4,648.1 L499.9,630.6 L500.4,646.2 L500.9,643.2 L501.4,643.3 L501.9,632.2 L502.4,627.5 L502.9,636.8 L503.4,625.6 L503.9,634.8 L504.4,622.8 L504.9,635.5 L505.4,623.2 L505.9,635.0 L506.4,644.0 L506.9,629.8 L507.4,634.1 L507.9,622.4 L508.4,618.3 L508.9,611.8 L509.4,626.0 L509.9,616.3 L510.4,624.8 L510.9,604.0 L511.4,607.8 L511.9,607.3 L512.4,613.5 L512.9,613.7 L513.4,595.6 L513.9,592.7 L514.4,588.9 L514.9,609.3 L515.4,600.1 L515.9,596.7 L516.4,600.8 L516.9,584.6 L517.4,590.3 L517.9,607.9 L518.4,604.6 L518.9,603.2 L519.4,595.9 L519.9,606.5 L520.4,614.5 L520.9,595.0 L521.4,603.4 L521.9,600.6 L522.4,606.1 L522.9,604.0 L523.4,603.2 L523.9,598.6 L524.4,604.5 L524.9,600.8 L525.4,604.0 L525.9,604.3 L526.4,608.3 L526.9,599.6 L527.4,600.7 L527.9,609.1 L528.4,600.1 L528.9,599.1 L529.4,605.9 L529.9,601.3 L530.4,599.5 L530.9,599.7 L531.4,589.5 L531.9,600.0 L532.4,605.1 L532.9,599.5 L533.4,584.9 L533.9,596.3 L534.4,587.9 L534.9,591.7 L535.4,625.6 L535.9,584.1 L536.4,600.0 L536.9,590.2 L537.4,595.2 L537.9,593.5 L538.4,596.9 L538.9,594.5 L539.4,575.6 L539.9,584.1 L540.4,568.4 L540.9,578.1 L541.4,584.2 L541.9,584.1 L542.4,585.1 L542.9,572.8 L543.4,575.9 L543.9,573.0 L544.4,579.3 L544.9,579.9 L545.4,565.8 L545.9,591.6 L546.4,565.5 L546.9,561.9 L547.4,566.9 L547.9,566.7 L548.4,564.0 L548.9,554.9 L549.4,550.4 L549.9,556.9 L550.4,565.4 L550.9,563.1 L551.4,544.4 L551.9,545.1 L552.4,543.6 L552.9,550.5 L553.4,548.0 L553.9,548.1 L554.4,539.8 L554.9,546.6 L555.4,552.2 L555.9,535.2 L556.4,543.7 L556.9,559.2 L557.4,546.1 L557.9,546.6 L558.4,560.5 L558.9,558.3 L559.4,556.5 L559.9,546.9 L560.4,567.6 L560.9,556.2 L561.4,551.1 L561.9,553.6 L562.4,553.6 L562.9,571.6 L563.4,559.7 L563.9,559.3 L564.4,545.4 L564.9,564.9 L565.4,553.7 L565.9,553.8 L566.4,565.8 L566.9,556.7 L567.4,568.4 L567.9,570.8 L568.4,552.4 L568.9,563.7 L569.4,554.9 L569.9,565.4 L570.4,571.6 L570.9,555.4 L571.4,574.8 L571.9,559.7 L572.4,552.7 L572.9,558.3 L573.4,563.0 L573.9,547.6 L574.4,555.3 L574.9,545.0 L575.4,560.6 L575.9,552.4 L576.4,547.3 L576.9,555.6 L577.4,539.1 L577.9,544.8 L578.4,560.1 L578.9,547.8 L579.4,558.2 L579.9,551.2 L580.4,546.0 L580.9,549.6 L581.4,552.3 L581.9,549.7 L582.4,547.7 L582.9,548.6 L583.4,544.6 L583.9,555.7 L584.4,558.1 L584.9,561.1 L585.4,545.0 L585.9,562.7" fill="none" stroke="#8dab97" stroke-width="2.4" stroke-linejoin="round" />
<path d="M241.3,583.5 L242.0,579.4 L242.7,573.3 L243.4,567.2 L244.1,563.2 L244.8,556.6 L245.5,553.5 L246.2,550.9 L246.9,541.5 L247.6,544.6 L248.3,554.1 L249.0,560.8 L249.7,562.9 L250.4,563.4 L251.1,568.1 L251.8,572.4 L252.5,575.6 L253.2,589.1 L253.9,596.5 L254.6,602.6 L255.3,606.2 L256.0,614.5 L256.7,614.0 L257.4,619.1 L258.1,620.0 L258.8,617.0 L259.5,609.7 L260.2,611.8 L260.9,610.5 L261.6,608.3 L262.3,602.2 L263.0,602.0 L263.7,598.4 L264.4,596.3 L265.1,599.3 L265.8,595.2 L266.5,596.9 L267.2,598.9 L267.9,595.7 L268.6,596.8 L269.3,597.2 L270.0,597.1 L270.7,594.9 L271.4,599.8 L272.1,604.7 L272.8,600.4 L273.5,607.7 L274.2,608.1 L274.9,608.5 L275.6,616.4 L276.3,614.8 L277.0,611.6 L277.7,615.5 L278.4,617.7 L279.1,617.2 L279.8,620.2 L280.5,619.7 L281.2,623.1 L281.9,626.8 L282.6,624.1 L283.3,628.0 L284.0,628.5 L284.7,631.8 L285.4,630.8 L286.1,636.1 L286.8,641.6 L287.5,648.6 L288.2,654.0 L288.9,653.7 L289.6,659.9 L290.3,668.2 L291.0,662.0 L291.7,660.6 L292.4,656.8 L293.1,655.1 L293.8,649.2 L294.5,644.4 L295.2,642.2 L295.9,640.3 L296.6,642.0 L297.3,635.5 L298.0,633.6 L298.7,638.1 L299.4,640.9 L300.1,644.5 L300.8,646.3 L301.5,652.6 L302.2,655.5 L302.9,660.2 L303.6,659.7 L304.3,658.9 L305.0,661.2 L305.7,659.7 L306.4,663.4 L307.1,661.8 L307.8,665.8 L308.5,665.2 L309.2,672.3 L309.9,671.3 L310.6,674.0 L311.3,681.3 L312.0,683.5 L312.7,686.9 L313.4,690.6 L314.1,683.0 L314.8,682.6 L315.5,683.6 L316.2,683.4 L316.9,681.1 L317.6,680.2 L318.3,681.4 L319.0,680.1 L319.7,676.3 L320.4,678.2 L321.1,678.2 L321.8,674.9 L322.5,678.3 L323.2,674.6 L323.9,680.1 L324.6,677.3 L325.3,676.7 L326.0,673.9 L326.7,675.3 L327.4,667.5 L328.1,671.1 L328.8,677.3 L329.5,667.5 L330.2,679.5 L330.9,669.3 L331.6,679.5 L332.3,673.2 L333.0,679.9 L333.7,677.4 L334.4,670.7 L335.1,681.5 L335.8,682.0 L336.5,675.7 L337.2,674.5 L337.9,674.7 L338.6,671.1 L339.3,679.1 L340.0,672.2 L340.7,673.8 L341.4,670.0 L342.1,669.7 L342.8,666.1 L343.5,675.2 L344.2,668.6 L344.9,672.1 L345.6,667.3 L346.3,662.2 L347.0,660.9 L347.7,657.2 L348.4,656.6 L349.1,652.3 L349.8,649.8 L350.5,642.7 L351.2,643.5 L351.9,653.0 L352.6,643.2 L353.3,641.3 L354.0,646.4 L354.7,650.3 L355.4,638.4 L356.1,641.0 L356.8,634.3 L357.5,624.8 L358.2,629.8 L358.9,621.8 L359.6,617.1 L360.3,609.7 L361.0,611.5 L361.7,604.5 L362.4,603.0 L363.1,596.1 L363.8,592.7 L364.5,599.8 L365.2,589.4 L365.9,591.6 L366.6,590.1 L367.3,588.2 L368.0,587.7 L368.7,592.0 L369.4,588.1 L370.1,588.5 L370.8,588.9 L371.5,593.3 L372.2,590.4 L372.9,587.9 L373.6,582.7 L374.3,578.0 L375.0,586.0 L375.7,584.7 L376.4,579.5 L377.1,582.5 L377.8,583.7 L378.5,584.1 L379.2,584.7 L379.9,579.4 L380.6,587.5 L381.3,576.6 L382.0,585.3 L382.7,582.7 L383.4,579.6 L384.1,579.1 L384.8,573.0 L385.5,557.9 L386.2,551.2 L386.9,557.7 L387.6,553.8 L388.3,561.2 L389.0,568.0 L389.7,561.4 L390.4,562.9 L391.1,575.7 L391.8,578.3 L392.5,577.5 L393.2,575.0 L393.9,567.9 L394.6,561.7 L395.3,563.5 L396.0,556.7 L396.7,552.2 L397.4,561.5 L398.1,559.9 L398.8,562.5 L399.5,557.6 L400.2,559.6 L400.9,558.9 L401.6,560.1" fill="none" stroke="#231815" stroke-width="2.3" stroke-linejoin="round" />
<line x1="109.20" y1="795.40" x2="109.20" y2="1012.10" stroke="#1f2a75" stroke-width="2.6" />
<line x1="97.00" y1="796.50" x2="110.50" y2="796.50" stroke="#1f2a75" stroke-width="2.6" />
<line x1="97.00" y1="882.10" x2="110.50" y2="882.10" stroke="#1f2a75" stroke-width="2.6" />
<line x1="97.00" y1="968.30" x2="110.50" y2="968.30" stroke="#1f2a75" stroke-width="2.6" />
<line x1="102.50" y1="840.40" x2="110.50" y2="840.40" stroke="#1f2a75" stroke-width="2.6" />
<line x1="102.50" y1="925.50" x2="110.50" y2="925.50" stroke="#1f2a75" stroke-width="2.6" />
<line x1="102.50" y1="1011.00" x2="110.50" y2="1011.00" stroke="#1f2a75" stroke-width="2.6" />
<text x="71.00" y="806.3" font-size="29.6" fill="#1f2a75" textLength="16.46" lengthAdjust="spacingAndGlyphs">0</text>
<text x="61.17" y="891.5" font-size="29.6" fill="#1f2a75" textLength="32.00" lengthAdjust="spacingAndGlyphs">−2</text>
<text x="61.20" y="976.0" font-size="29.6" fill="#1f2a75" textLength="31.39" lengthAdjust="spacingAndGlyphs">−4</text>
<text transform="translate(43.5,1019.2) rotate(-90)" font-size="29.6" fill="#1f2a75" textLength="271.1" lengthAdjust="spacingAndGlyphs">MAG δ<tspan font-size="16" dy="-10.5">18</tspan><tspan dy="10.5">O (‰, VPDB)</tspan></text>
<text x="294.57" y="793.0" font-size="29.6" fill="#231815" textLength="91.92" lengthAdjust="spacingAndGlyphs">SAHP2</text>
<line x1="307.90" y1="809.90" x2="353.30" y2="809.90" stroke="#332a27" stroke-width="2.7" />
<path d="M301.9,809.9 Q309.4,805.6999999999999 315.09999999999997,799.6999999999999 Q312.4,805.9 311.9,809.9 Q312.4,813.9 315.09999999999997,820.1 Q309.4,814.1 301.9,809.9 Z" fill="#332a27"/>
<path d="M359.3,809.9 Q351.8,805.6999999999999 346.1,799.6999999999999 Q348.8,805.9 349.3,809.9 Q348.8,813.9 346.1,820.1 Q351.8,814.1 359.3,809.9 Z" fill="#332a27"/>
<path d="M242.1,916.2 L242.7,867.6 L243.3,892.7 L243.9,847.4 L244.5,815.8 L245.1,805.7 L245.7,790.0 L246.3,819.1 L246.9,818.0 L247.5,865.6 L248.1,819.8 L248.7,805.4 L249.3,799.2 L249.9,787.2 L250.5,785.6 L251.1,807.4 L251.7,831.8 L252.3,836.3 L252.9,863.5 L253.5,855.3 L254.1,864.4 L254.7,889.7 L255.3,883.4 L255.9,876.5 L256.5,886.8 L257.1,897.8 L257.7,908.6 L258.3,874.4 L258.9,818.8 L259.5,877.0 L260.1,846.7 L260.7,847.5 L261.3,855.5 L261.9,845.1 L262.5,840.4 L263.1,857.1 L263.7,822.9 L264.3,880.6 L264.9,865.3 L265.5,848.4 L266.1,864.7 L266.7,862.0 L267.3,839.6 L267.9,823.7 L268.5,829.5 L269.1,824.2 L269.7,845.6 L270.3,840.6 L270.9,836.9 L271.5,851.6 L272.1,798.5 L272.7,832.6 L273.3,855.7 L273.9,860.5 L274.5,855.4 L275.1,853.1 L275.7,870.5 L276.3,841.3 L276.9,885.9 L277.5,890.3 L278.1,870.6 L278.7,898.7 L279.3,892.7 L279.9,921.1 L280.5,888.8 L281.1,883.7 L281.7,885.0 L282.3,871.5 L282.9,811.0 L283.5,812.7 L284.1,824.4 L284.7,818.0 L285.3,850.8 L285.9,821.4 L286.5,866.1 L287.1,833.9 L287.7,869.9 L288.3,857.4 L288.9,858.4 L289.5,845.7 L290.1,892.1 L290.7,884.5 L291.3,888.4 L291.9,897.2 L292.5,891.2 L293.1,882.8 L293.7,884.8 L294.3,888.7 L294.9,908.1 L295.5,865.0 L296.1,855.3 L296.7,863.8 L297.3,862.8 L297.9,859.5 L298.5,829.0 L299.1,815.2 L299.7,829.0 L300.3,852.7 L300.9,830.7 L301.5,857.2 L302.1,859.1 L302.7,875.2 L303.3,876.9 L303.9,898.7 L304.5,887.0 L305.1,906.3 L305.7,907.1 L306.3,919.2 L306.9,919.1 L307.5,952.0 L308.1,942.7 L308.7,946.6 L309.3,906.2 L309.9,931.3 L310.5,930.9 L311.1,943.7 L311.7,907.0 L312.3,948.7 L312.9,945.9 L313.5,914.7 L314.1,917.3 L314.7,918.0 L315.3,927.0 L315.9,934.3 L316.5,954.3 L317.1,928.6 L317.7,943.0 L318.3,937.7 L318.9,960.2 L319.5,949.8 L320.1,960.0 L320.7,931.8 L321.3,941.0 L321.9,922.8 L322.5,941.4 L323.1,920.3 L323.7,897.8 L324.3,885.6 L324.9,886.8 L325.5,855.6 L326.1,833.3 L326.7,831.5 L327.3,855.8 L327.9,840.3 L328.5,854.9 L329.1,865.6 L329.7,881.9 L330.3,923.6 L330.9,935.4 L331.5,930.5 L332.1,926.3 L332.7,943.1 L333.3,949.0 L333.9,933.8 L334.5,952.5 L335.1,963.6 L335.7,956.3 L336.3,964.0 L336.9,963.6 L337.5,973.6 L338.1,992.4 L338.7,977.7 L339.3,976.5 L339.9,984.2 L340.5,977.7 L341.1,986.4 L341.7,934.6 L342.3,967.1 L342.9,946.5 L343.5,950.6 L344.1,955.7 L344.7,955.2 L345.3,951.0 L345.9,936.4 L346.5,950.9 L347.1,940.9 L347.7,956.3 L348.3,981.7 L348.9,978.5 L349.5,1026.1 L350.1,1025.4 L350.7,1045.2 L351.3,1006.4 L351.9,990.6 L352.5,986.2 L353.1,982.0 L353.7,957.2 L354.3,961.8 L354.9,949.2 L355.5,962.1 L356.1,926.0 L356.7,939.8 L357.3,911.1 L357.9,899.6 L358.5,895.1 L359.1,886.3 L359.7,900.2 L360.3,908.5 L360.9,894.8 L361.5,897.8 L362.1,907.6 L362.7,891.7 L363.3,899.7 L363.9,902.7 L364.5,895.0 L365.1,933.5 L365.7,902.0 L366.3,930.4 L366.9,920.2 L367.5,932.7 L368.1,917.2 L368.7,909.8 L369.3,926.6 L369.9,917.1 L370.5,923.8 L371.1,928.6 L371.7,928.4 L372.3,929.2 L372.9,922.4 L373.5,931.6 L374.1,908.4 L374.7,934.4 L375.3,922.6 L375.9,952.7 L376.5,955.8 L377.1,916.7" fill="none" stroke="#1f2a75" stroke-width="2.0" stroke-linejoin="round" />
<line x1="605.20" y1="1054.20" x2="605.20" y2="1206.90" stroke="#a01a5e" stroke-width="2.6" />
<line x1="603.90" y1="1105.90" x2="615.20" y2="1105.90" stroke="#a01a5e" stroke-width="2.6" />
<line x1="603.90" y1="1205.80" x2="615.20" y2="1205.80" stroke="#a01a5e" stroke-width="2.6" />
<line x1="603.90" y1="1055.30" x2="615.20" y2="1055.30" stroke="#a01a5e" stroke-width="2.6" />
<line x1="603.90" y1="1155.60" x2="615.20" y2="1155.60" stroke="#a01a5e" stroke-width="2.6" />
<text x="621.67" y="1116.8" font-size="29.6" fill="#a01a5e" textLength="32.11" lengthAdjust="spacingAndGlyphs">−2</text>
<text x="622.39" y="1218.5" font-size="29.6" fill="#a01a5e" textLength="31.50" lengthAdjust="spacingAndGlyphs">−4</text>
<text transform="translate(690.0,1298.8) rotate(-90)" font-size="29.6" fill="#a01a5e" textLength="284.9" lengthAdjust="spacingAndGlyphs">PX-07 δ<tspan font-size="16" dy="-10.5">18</tspan><tspan dy="10.5">O (‰, VPDB)</tspan></text>
<path d="M302.0,1053.9 L302.8,1098.0 L303.6,1136.0 L304.4,1132.2 L305.2,1117.4 L306.0,1136.1 L306.8,1135.5 L307.6,1142.5 L308.4,1114.9 L309.2,1118.0 L310.0,1120.2 L310.8,1142.9 L311.6,1143.5 L312.4,1156.4 L313.2,1150.7 L314.0,1200.3 L314.8,1169.6 L315.6,1187.3 L316.4,1167.2 L317.2,1154.5 L318.0,1148.4 L318.8,1140.3 L319.6,1141.3 L320.4,1138.7 L321.2,1157.0 L322.0,1133.6 L322.8,1153.9 L323.6,1151.0 L324.4,1169.6 L325.2,1149.1 L326.0,1168.2 L326.8,1177.0 L327.6,1166.6 L328.4,1186.6 L329.2,1170.1 L330.0,1167.5 L330.8,1157.4 L331.6,1131.3 L332.4,1123.2 L333.2,1118.6 L334.0,1117.1 L334.8,1118.6 L335.6,1112.2 L336.4,1119.9 L337.2,1125.1 L338.0,1133.8 L338.8,1143.6 L339.6,1151.3 L340.4,1176.8 L341.2,1159.1 L342.0,1164.2 L342.8,1173.8 L343.6,1165.0 L344.4,1173.3 L345.2,1184.9 L346.0,1202.8 L346.8,1196.5 L347.6,1230.8 L348.4,1227.5 L349.2,1236.0 L350.0,1233.2 L350.8,1223.2 L351.6,1218.1 L352.4,1202.0 L353.2,1193.2 L354.0,1192.9 L354.8,1178.6 L355.6,1194.2 L356.4,1174.2 L357.2,1166.9 L358.0,1183.7 L358.8,1153.8 L359.6,1133.6 L360.4,1148.0 L361.2,1118.1 L362.0,1128.3 L362.8,1122.5 L363.6,1132.8 L364.4,1125.9 L365.2,1129.4 L366.0,1135.2 L366.8,1155.7 L367.6,1166.8 L368.4,1172.7 L369.2,1135.4 L370.0,1144.9 L370.8,1123.3 L371.6,1099.6 L372.4,1102.7 L373.2,1097.9 L374.0,1099.0 L374.8,1090.6 L375.6,1095.9 L376.4,1081.9 L377.2,1089.3 L378.0,1070.8" fill="none" stroke="#a01a5e" stroke-width="2.0" stroke-linejoin="round" />
<line x1="109.70" y1="1274.80" x2="109.70" y2="1376.90" stroke="#5a5a5a" stroke-width="2.4" />
<line x1="98.40" y1="1275.80" x2="110.90" y2="1275.80" stroke="#5a5a5a" stroke-width="2.4" />
<line x1="98.40" y1="1316.30" x2="110.90" y2="1316.30" stroke="#5a5a5a" stroke-width="2.4" />
<line x1="98.40" y1="1355.30" x2="110.90" y2="1355.30" stroke="#5a5a5a" stroke-width="2.4" />
<line x1="103.60" y1="1296.70" x2="110.90" y2="1296.70" stroke="#5a5a5a" stroke-width="2.4" />
<line x1="103.60" y1="1335.80" x2="110.90" y2="1335.80" stroke="#5a5a5a" stroke-width="2.4" />
<line x1="103.60" y1="1375.90" x2="110.90" y2="1375.90" stroke="#5a5a5a" stroke-width="2.4" />
<text x="38.37" y="1287.6" font-size="29.6" fill="#231815" textLength="55.61" lengthAdjust="spacingAndGlyphs">−3.5</text>
<text x="52.88" y="1329.5" font-size="29.6" fill="#231815" textLength="31.71" lengthAdjust="spacingAndGlyphs">−4</text>
<text x="38.37" y="1365.8" font-size="29.6" fill="#231815" textLength="55.61" lengthAdjust="spacingAndGlyphs">−4.5</text>
<text transform="translate(30.5,1472.7) rotate(-90)" font-size="29.6" fill="#6f6f6f" textLength="304" lengthAdjust="spacingAndGlyphs">BTV-4C δ<tspan font-size="16" dy="-10.5">18</tspan><tspan dy="10.5">O (‰, VPDB)</tspan></text>
<path d="M256.8,1293.5 L257.8,1286.8 L258.8,1288.8 L259.8,1288.6 L260.8,1288.7 L261.8,1279.2 L262.8,1271.7 L263.8,1266.6 L264.8,1275.4 L265.8,1280.6 L266.8,1273.4 L267.8,1265.5 L268.8,1267.3 L269.8,1281.7 L270.8,1276.1 L271.8,1268.0 L272.8,1279.5 L273.8,1276.1 L274.8,1281.5 L275.8,1284.8 L276.8,1291.4 L277.8,1295.5 L278.8,1294.0 L279.8,1292.3 L280.8,1299.0 L281.8,1302.5 L282.8,1290.1 L283.8,1298.9 L284.8,1296.1 L285.8,1301.8 L286.8,1296.8 L287.8,1305.2 L288.8,1305.6 L289.8,1300.7 L290.8,1293.1 L291.8,1293.2 L292.8,1285.9 L293.8,1280.9 L294.8,1286.1 L295.8,1275.3 L296.8,1284.3 L297.8,1282.4 L298.8,1269.1 L299.8,1283.1 L300.8,1277.2 L301.8,1285.0 L302.8,1286.6 L303.8,1277.1 L304.8,1288.3 L305.8,1289.8 L306.8,1298.0 L307.8,1288.8 L308.8,1303.4 L309.8,1297.3 L310.8,1312.7 L311.8,1306.7 L312.8,1323.3 L313.8,1322.4 L314.8,1336.7 L315.8,1330.8 L316.8,1335.2 L317.8,1338.6 L318.8,1334.0 L319.8,1345.2 L320.8,1351.4 L321.8,1345.2 L322.8,1351.1 L323.8,1352.7 L324.8,1358.8 L325.8,1356.1 L326.8,1360.0 L327.8,1364.8 L328.8,1363.5 L329.8,1356.1 L330.8,1363.8 L331.8,1349.7 L332.8,1348.2 L333.8,1345.8 L334.8,1357.1 L335.8,1349.8 L336.8,1346.5 L337.8,1345.6 L338.8,1354.1 L339.8,1346.0 L340.8,1343.8 L341.8,1349.2 L342.8,1334.2 L343.8,1334.0 L344.8,1330.8 L345.8,1323.4 L346.8,1320.5 L347.8,1323.2 L348.8,1308.0 L349.8,1307.0 L350.8,1307.8 L351.8,1320.8 L352.8,1324.0 L353.8,1331.4 L354.8,1331.4 L355.8,1327.2 L356.8,1318.2 L357.8,1311.6 L358.8,1307.6 L359.8,1297.0 L360.8,1293.9 L361.8,1302.6 L362.8,1293.6 L363.8,1281.1 L364.8,1298.1 L365.8,1289.3 L366.8,1281.1 L367.8,1282.5 L368.8,1290.7 L369.8,1291.3 L370.8,1295.2 L371.8,1297.2 L372.8,1307.0 L373.8,1316.7 L374.8,1314.0 L375.8,1314.6 L376.8,1336.1 L377.8,1324.1 L378.8,1337.2 L379.8,1339.1 L380.8,1340.0 L381.8,1345.2 L382.8,1351.7 L383.8,1340.7 L384.8,1327.9 L385.8,1323.6 L386.8,1319.8 L387.8,1307.3 L388.8,1305.6 L389.8,1295.9 L390.8,1296.8 L391.8,1313.1 L392.8,1315.5 L393.8,1321.8 L394.8,1334.0 L395.8,1334.0 L396.8,1346.2 L397.8,1361.5 L398.8,1366.5 L399.8,1365.0 L400.8,1350.0 L401.8,1335.4 L402.8,1347.7 L403.8,1336.5 L404.8,1318.1 L405.8,1325.0 L406.8,1311.1 L407.8,1303.0 L408.8,1313.7 L409.8,1316.2 L410.8,1330.7 L411.8,1320.6 L412.8,1326.6 L413.8,1329.5 L414.8,1331.9 L415.8,1328.4 L416.8,1331.6 L417.8,1333.3 L418.8,1327.8 L419.8,1316.3 L420.8,1312.1 L421.8,1316.1 L422.8,1308.5 L423.8,1306.8 L424.8,1301.1 L425.8,1321.0 L426.8,1315.3 L427.8,1304.9 L428.8,1315.3 L429.8,1317.7 L430.8,1297.2 L431.8,1307.3 L432.8,1307.2 L433.8,1311.9 L434.8,1306.6 L435.8,1305.0 L436.8,1304.4 L437.8,1314.5 L438.8,1315.2 L439.8,1299.4" fill="none" stroke="#5a5a5a" stroke-width="2.0" stroke-linejoin="round" />
<line x1="122.00" y1="528.50" x2="139.70" y2="528.50" stroke="#036a3f" stroke-width="1.5" />
<line x1="122.00" y1="525.30" x2="122.00" y2="531.70" stroke="#036a3f" stroke-width="1.5" />
<line x1="139.70" y1="525.30" x2="139.70" y2="531.70" stroke="#036a3f" stroke-width="1.5" />
<circle cx="130.8" cy="528.5" r="1.6" fill="#036a3f"/>
<line x1="148.20" y1="528.50" x2="157.80" y2="528.50" stroke="#036a3f" stroke-width="1.5" />
<line x1="148.20" y1="525.30" x2="148.20" y2="531.70" stroke="#036a3f" stroke-width="1.5" />
<line x1="157.80" y1="525.30" x2="157.80" y2="531.70" stroke="#036a3f" stroke-width="1.5" />
<circle cx="153.0" cy="528.5" r="1.6" fill="#036a3f"/>
<line x1="163.00" y1="528.50" x2="174.70" y2="528.50" stroke="#036a3f" stroke-width="1.5" />
<line x1="163.00" y1="525.30" x2="163.00" y2="531.70" stroke="#036a3f" stroke-width="1.5" />
<line x1="174.70" y1="525.30" x2="174.70" y2="531.70" stroke="#036a3f" stroke-width="1.5" />
<circle cx="168.8" cy="528.5" r="1.6" fill="#036a3f"/>
<line x1="185.10" y1="527.70" x2="195.90" y2="527.70" stroke="#036a3f" stroke-width="1.5" />
<line x1="185.10" y1="524.50" x2="185.10" y2="530.90" stroke="#036a3f" stroke-width="1.5" />
<line x1="195.90" y1="524.50" x2="195.90" y2="530.90" stroke="#036a3f" stroke-width="1.5" />
<circle cx="190.5" cy="527.7" r="1.6" fill="#036a3f"/>
<line x1="200.70" y1="528.50" x2="213.50" y2="528.50" stroke="#036a3f" stroke-width="1.5" />
<line x1="200.70" y1="525.30" x2="200.70" y2="531.70" stroke="#036a3f" stroke-width="1.5" />
<line x1="213.50" y1="525.30" x2="213.50" y2="531.70" stroke="#036a3f" stroke-width="1.5" />
<circle cx="207.1" cy="528.5" r="1.6" fill="#036a3f"/>
<line x1="222.40" y1="528.50" x2="231.70" y2="528.50" stroke="#036a3f" stroke-width="1.5" />
<line x1="222.40" y1="525.30" x2="222.40" y2="531.70" stroke="#036a3f" stroke-width="1.5" />
<line x1="231.70" y1="525.30" x2="231.70" y2="531.70" stroke="#036a3f" stroke-width="1.5" />
<circle cx="227.1" cy="528.5" r="1.6" fill="#036a3f"/>
<line x1="244.00" y1="528.50" x2="256.40" y2="528.50" stroke="#036a3f" stroke-width="1.5" />
<line x1="244.00" y1="525.30" x2="244.00" y2="531.70" stroke="#036a3f" stroke-width="1.5" />
<line x1="256.40" y1="525.30" x2="256.40" y2="531.70" stroke="#036a3f" stroke-width="1.5" />
<circle cx="250.2" cy="528.5" r="1.6" fill="#036a3f"/>
<line x1="266.50" y1="528.50" x2="278.60" y2="528.50" stroke="#036a3f" stroke-width="1.5" />
<line x1="266.50" y1="525.30" x2="266.50" y2="531.70" stroke="#036a3f" stroke-width="1.5" />
<line x1="278.60" y1="525.30" x2="278.60" y2="531.70" stroke="#036a3f" stroke-width="1.5" />
<circle cx="272.6" cy="528.5" r="1.6" fill="#036a3f"/>
<line x1="279.40" y1="528.50" x2="292.20" y2="528.50" stroke="#036a3f" stroke-width="1.5" />
<line x1="279.40" y1="525.30" x2="279.40" y2="531.70" stroke="#036a3f" stroke-width="1.5" />
<line x1="292.20" y1="525.30" x2="292.20" y2="531.70" stroke="#036a3f" stroke-width="1.5" />
<circle cx="285.8" cy="528.5" r="1.6" fill="#036a3f"/>
<line x1="312.60" y1="528.50" x2="325.10" y2="528.50" stroke="#036a3f" stroke-width="1.5" />
<line x1="312.60" y1="525.30" x2="312.60" y2="531.70" stroke="#036a3f" stroke-width="1.5" />
<line x1="325.10" y1="525.30" x2="325.10" y2="531.70" stroke="#036a3f" stroke-width="1.5" />
<circle cx="318.9" cy="528.5" r="1.6" fill="#036a3f"/>
<line x1="177.10" y1="539.80" x2="187.90" y2="539.80" stroke="#036a3f" stroke-width="1.5" />
<line x1="177.10" y1="536.60" x2="177.10" y2="543.00" stroke="#036a3f" stroke-width="1.5" />
<line x1="187.90" y1="536.60" x2="187.90" y2="543.00" stroke="#036a3f" stroke-width="1.5" />
<circle cx="182.5" cy="539.8" r="1.6" fill="#036a3f"/>
<line x1="279.90" y1="539.80" x2="291.90" y2="539.80" stroke="#036a3f" stroke-width="1.5" />
<line x1="279.90" y1="536.60" x2="279.90" y2="543.00" stroke="#036a3f" stroke-width="1.5" />
<line x1="291.90" y1="536.60" x2="291.90" y2="543.00" stroke="#036a3f" stroke-width="1.5" />
<circle cx="285.9" cy="539.8" r="1.6" fill="#036a3f"/>
<line x1="314.20" y1="539.80" x2="325.90" y2="539.80" stroke="#036a3f" stroke-width="1.5" />
<line x1="314.20" y1="536.60" x2="314.20" y2="543.00" stroke="#036a3f" stroke-width="1.5" />
<line x1="325.90" y1="536.60" x2="325.90" y2="543.00" stroke="#036a3f" stroke-width="1.5" />
<circle cx="320.0" cy="539.8" r="1.6" fill="#036a3f"/>
<line x1="338.80" y1="541.00" x2="350.00" y2="541.00" stroke="#036a3f" stroke-width="1.5" />
<line x1="338.80" y1="537.80" x2="338.80" y2="544.20" stroke="#036a3f" stroke-width="1.5" />
<line x1="350.00" y1="537.80" x2="350.00" y2="544.20" stroke="#036a3f" stroke-width="1.5" />
<circle cx="344.4" cy="541.0" r="1.6" fill="#036a3f"/>
<line x1="195.40" y1="518.10" x2="205.00" y2="518.10" stroke="#036a3f" stroke-width="1.5" />
<line x1="195.40" y1="514.90" x2="195.40" y2="521.30" stroke="#036a3f" stroke-width="1.5" />
<line x1="205.00" y1="514.90" x2="205.00" y2="521.30" stroke="#036a3f" stroke-width="1.5" />
<circle cx="200.2" cy="518.1" r="1.6" fill="#036a3f"/>
<line x1="211.90" y1="518.10" x2="222.40" y2="518.10" stroke="#036a3f" stroke-width="1.5" />
<line x1="211.90" y1="514.90" x2="211.90" y2="521.30" stroke="#036a3f" stroke-width="1.5" />
<line x1="222.40" y1="514.90" x2="222.40" y2="521.30" stroke="#036a3f" stroke-width="1.5" />
<circle cx="217.2" cy="518.1" r="1.6" fill="#036a3f"/>
<line x1="236.80" y1="516.50" x2="248.40" y2="516.50" stroke="#036a3f" stroke-width="1.5" />
<line x1="236.80" y1="513.30" x2="236.80" y2="519.70" stroke="#036a3f" stroke-width="1.5" />
<line x1="248.40" y1="513.30" x2="248.40" y2="519.70" stroke="#036a3f" stroke-width="1.5" />
<circle cx="242.6" cy="516.5" r="1.6" fill="#036a3f"/>
<line x1="271.30" y1="516.50" x2="283.70" y2="516.50" stroke="#036a3f" stroke-width="1.5" />
<line x1="271.30" y1="513.30" x2="271.30" y2="519.70" stroke="#036a3f" stroke-width="1.5" />
<line x1="283.70" y1="513.30" x2="283.70" y2="519.70" stroke="#036a3f" stroke-width="1.5" />
<circle cx="277.5" cy="516.5" r="1.6" fill="#036a3f"/>
<line x1="289.80" y1="516.50" x2="301.80" y2="516.50" stroke="#036a3f" stroke-width="1.5" />
<line x1="289.80" y1="513.30" x2="289.80" y2="519.70" stroke="#036a3f" stroke-width="1.5" />
<line x1="301.80" y1="513.30" x2="301.80" y2="519.70" stroke="#036a3f" stroke-width="1.5" />
<circle cx="295.8" cy="516.5" r="1.6" fill="#036a3f"/>
<line x1="302.60" y1="516.50" x2="313.90" y2="516.50" stroke="#036a3f" stroke-width="1.5" />
<line x1="302.60" y1="513.30" x2="302.60" y2="519.70" stroke="#036a3f" stroke-width="1.5" />
<line x1="313.90" y1="513.30" x2="313.90" y2="519.70" stroke="#036a3f" stroke-width="1.5" />
<circle cx="308.2" cy="516.5" r="1.6" fill="#036a3f"/>
<line x1="316.30" y1="516.50" x2="328.70" y2="516.50" stroke="#036a3f" stroke-width="1.5" />
<line x1="316.30" y1="513.30" x2="316.30" y2="519.70" stroke="#036a3f" stroke-width="1.5" />
<line x1="328.70" y1="513.30" x2="328.70" y2="519.70" stroke="#036a3f" stroke-width="1.5" />
<circle cx="322.5" cy="516.5" r="1.6" fill="#036a3f"/>
<line x1="230.10" y1="508.00" x2="239.20" y2="508.00" stroke="#036a3f" stroke-width="1.5" />
<line x1="230.10" y1="504.80" x2="230.10" y2="511.20" stroke="#036a3f" stroke-width="1.5" />
<line x1="239.20" y1="504.80" x2="239.20" y2="511.20" stroke="#036a3f" stroke-width="1.5" />
<circle cx="234.6" cy="508.0" r="1.6" fill="#036a3f"/>
<line x1="292.20" y1="508.00" x2="305.50" y2="508.00" stroke="#036a3f" stroke-width="1.5" />
<line x1="292.20" y1="504.80" x2="292.20" y2="511.20" stroke="#036a3f" stroke-width="1.5" />
<line x1="305.50" y1="504.80" x2="305.50" y2="511.20" stroke="#036a3f" stroke-width="1.5" />
<circle cx="298.9" cy="508.0" r="1.6" fill="#036a3f"/>
<line x1="323.20" y1="508.00" x2="336.40" y2="508.00" stroke="#036a3f" stroke-width="1.5" />
<line x1="323.20" y1="504.80" x2="323.20" y2="511.20" stroke="#036a3f" stroke-width="1.5" />
<line x1="336.40" y1="504.80" x2="336.40" y2="511.20" stroke="#036a3f" stroke-width="1.5" />
<circle cx="329.8" cy="508.0" r="1.6" fill="#036a3f"/>
<line x1="291.10" y1="498.00" x2="304.70" y2="498.00" stroke="#036a3f" stroke-width="1.5" />
<line x1="291.10" y1="494.80" x2="291.10" y2="501.20" stroke="#036a3f" stroke-width="1.5" />
<line x1="304.70" y1="494.80" x2="304.70" y2="501.20" stroke="#036a3f" stroke-width="1.5" />
<circle cx="297.9" cy="498.0" r="1.6" fill="#036a3f"/>
<line x1="356.10" y1="503.60" x2="378.40" y2="503.60" stroke="#036a3f" stroke-width="1.5" />
<line x1="356.10" y1="500.40" x2="356.10" y2="506.80" stroke="#036a3f" stroke-width="1.5" />
<line x1="378.40" y1="500.40" x2="378.40" y2="506.80" stroke="#036a3f" stroke-width="1.5" />
<circle cx="367.2" cy="503.6" r="1.6" fill="#036a3f"/>
<line x1="390.70" y1="506.00" x2="400.60" y2="506.00" stroke="#036a3f" stroke-width="1.5" />
<line x1="390.70" y1="502.80" x2="390.70" y2="509.20" stroke="#036a3f" stroke-width="1.5" />
<line x1="400.60" y1="502.80" x2="400.60" y2="509.20" stroke="#036a3f" stroke-width="1.5" />
<circle cx="395.6" cy="506.0" r="1.6" fill="#036a3f"/>
<line x1="473.70" y1="506.00" x2="485.50" y2="506.00" stroke="#036a3f" stroke-width="1.5" />
<line x1="473.70" y1="502.80" x2="473.70" y2="509.20" stroke="#036a3f" stroke-width="1.5" />
<line x1="485.50" y1="502.80" x2="485.50" y2="509.20" stroke="#036a3f" stroke-width="1.5" />
<circle cx="479.6" cy="506.0" r="1.6" fill="#036a3f"/>
<line x1="523.20" y1="510.50" x2="534.30" y2="510.50" stroke="#036a3f" stroke-width="1.5" />
<line x1="523.20" y1="507.30" x2="523.20" y2="513.70" stroke="#036a3f" stroke-width="1.5" />
<line x1="534.30" y1="507.30" x2="534.30" y2="513.70" stroke="#036a3f" stroke-width="1.5" />
<circle cx="528.8" cy="510.5" r="1.6" fill="#036a3f"/>
<line x1="364.30" y1="515.20" x2="380.80" y2="515.20" stroke="#036a3f" stroke-width="1.5" />
<line x1="364.30" y1="512.00" x2="364.30" y2="518.40" stroke="#036a3f" stroke-width="1.5" />
<line x1="380.80" y1="512.00" x2="380.80" y2="518.40" stroke="#036a3f" stroke-width="1.5" />
<circle cx="372.6" cy="515.2" r="1.6" fill="#036a3f"/>
<line x1="395.00" y1="515.20" x2="405.60" y2="515.20" stroke="#036a3f" stroke-width="1.5" />
<line x1="395.00" y1="512.00" x2="395.00" y2="518.40" stroke="#036a3f" stroke-width="1.5" />
<line x1="405.60" y1="512.00" x2="405.60" y2="518.40" stroke="#036a3f" stroke-width="1.5" />
<circle cx="400.3" cy="515.2" r="1.6" fill="#036a3f"/>
<line x1="447.70" y1="515.20" x2="459.30" y2="515.20" stroke="#036a3f" stroke-width="1.5" />
<line x1="447.70" y1="512.00" x2="447.70" y2="518.40" stroke="#036a3f" stroke-width="1.5" />
<line x1="459.30" y1="512.00" x2="459.30" y2="518.40" stroke="#036a3f" stroke-width="1.5" />
<circle cx="453.5" cy="515.2" r="1.6" fill="#036a3f"/>
<line x1="477.40" y1="515.20" x2="488.50" y2="515.20" stroke="#036a3f" stroke-width="1.5" />
<line x1="477.40" y1="512.00" x2="477.40" y2="518.40" stroke="#036a3f" stroke-width="1.5" />
<line x1="488.50" y1="512.00" x2="488.50" y2="518.40" stroke="#036a3f" stroke-width="1.5" />
<circle cx="482.9" cy="515.2" r="1.6" fill="#036a3f"/>
<line x1="498.40" y1="515.20" x2="511.30" y2="515.20" stroke="#036a3f" stroke-width="1.5" />
<line x1="498.40" y1="512.00" x2="498.40" y2="518.40" stroke="#036a3f" stroke-width="1.5" />
<line x1="511.30" y1="512.00" x2="511.30" y2="518.40" stroke="#036a3f" stroke-width="1.5" />
<circle cx="504.9" cy="515.2" r="1.6" fill="#036a3f"/>
<line x1="545.40" y1="517.70" x2="556.60" y2="517.70" stroke="#036a3f" stroke-width="1.5" />
<line x1="545.40" y1="514.50" x2="545.40" y2="520.90" stroke="#036a3f" stroke-width="1.5" />
<line x1="556.60" y1="514.50" x2="556.60" y2="520.90" stroke="#036a3f" stroke-width="1.5" />
<circle cx="551.0" cy="517.7" r="1.6" fill="#036a3f"/>
<line x1="570.70" y1="515.20" x2="586.30" y2="515.20" stroke="#036a3f" stroke-width="1.5" />
<line x1="570.70" y1="512.00" x2="570.70" y2="518.40" stroke="#036a3f" stroke-width="1.5" />
<line x1="586.30" y1="512.00" x2="586.30" y2="518.40" stroke="#036a3f" stroke-width="1.5" />
<circle cx="578.5" cy="515.2" r="1.6" fill="#036a3f"/>
<line x1="351.10" y1="518.50" x2="359.80" y2="518.50" stroke="#036a3f" stroke-width="1.5" />
<line x1="351.10" y1="515.30" x2="351.10" y2="521.70" stroke="#036a3f" stroke-width="1.5" />
<line x1="359.80" y1="515.30" x2="359.80" y2="521.70" stroke="#036a3f" stroke-width="1.5" />
<circle cx="355.5" cy="518.5" r="1.6" fill="#036a3f"/>
<line x1="345.00" y1="522.90" x2="388.30" y2="522.90" stroke="#036a3f" stroke-width="1.5" />
<line x1="345.00" y1="519.70" x2="345.00" y2="526.10" stroke="#036a3f" stroke-width="1.5" />
<line x1="388.30" y1="519.70" x2="388.30" y2="526.10" stroke="#036a3f" stroke-width="1.5" />
<circle cx="366.6" cy="522.9" r="1.6" fill="#036a3f"/>
<line x1="416.70" y1="522.90" x2="427.10" y2="522.90" stroke="#036a3f" stroke-width="1.5" />
<line x1="416.70" y1="519.70" x2="416.70" y2="526.10" stroke="#036a3f" stroke-width="1.5" />
<line x1="427.10" y1="519.70" x2="427.10" y2="526.10" stroke="#036a3f" stroke-width="1.5" />
<circle cx="421.9" cy="522.9" r="1.6" fill="#036a3f"/>
<line x1="388.30" y1="530.10" x2="405.60" y2="530.10" stroke="#036a3f" stroke-width="1.5" />
<line x1="388.30" y1="526.90" x2="388.30" y2="533.30" stroke="#036a3f" stroke-width="1.5" />
<line x1="405.60" y1="526.90" x2="405.60" y2="533.30" stroke="#036a3f" stroke-width="1.5" />
<circle cx="397.0" cy="530.1" r="1.6" fill="#036a3f"/>
<line x1="434.60" y1="530.10" x2="446.90" y2="530.10" stroke="#036a3f" stroke-width="1.5" />
<line x1="434.60" y1="526.90" x2="434.60" y2="533.30" stroke="#036a3f" stroke-width="1.5" />
<line x1="446.90" y1="526.90" x2="446.90" y2="533.30" stroke="#036a3f" stroke-width="1.5" />
<circle cx="440.8" cy="530.1" r="1.6" fill="#036a3f"/>
<line x1="359.80" y1="537.80" x2="374.70" y2="537.80" stroke="#036a3f" stroke-width="1.5" />
<line x1="359.80" y1="534.60" x2="359.80" y2="541.00" stroke="#036a3f" stroke-width="1.5" />
<line x1="374.70" y1="534.60" x2="374.70" y2="541.00" stroke="#036a3f" stroke-width="1.5" />
<circle cx="367.2" cy="537.8" r="1.6" fill="#036a3f"/>
<line x1="340.00" y1="538.00" x2="350.00" y2="538.00" stroke="#036a3f" stroke-width="1.5" />
<line x1="340.00" y1="534.80" x2="340.00" y2="541.20" stroke="#036a3f" stroke-width="1.5" />
<line x1="350.00" y1="534.80" x2="350.00" y2="541.20" stroke="#036a3f" stroke-width="1.5" />
<circle cx="345.0" cy="538.0" r="1.6" fill="#036a3f"/>
<line x1="223.50" y1="718.60" x2="238.50" y2="718.60" stroke="#231815" stroke-width="1.6" />
<line x1="223.50" y1="715.00" x2="223.50" y2="722.20" stroke="#231815" stroke-width="1.6" />
<line x1="238.50" y1="715.00" x2="238.50" y2="722.20" stroke="#231815" stroke-width="1.6" />
<circle cx="231.0" cy="718.6" r="1.9" fill="#231815"/>
<line x1="286.20" y1="721.20" x2="300.10" y2="721.20" stroke="#231815" stroke-width="1.6" />
<line x1="286.20" y1="717.60" x2="286.20" y2="724.80" stroke="#231815" stroke-width="1.6" />
<line x1="300.10" y1="717.60" x2="300.10" y2="724.80" stroke="#231815" stroke-width="1.6" />
<circle cx="293.1" cy="721.2" r="1.9" fill="#231815"/>
<line x1="304.40" y1="721.20" x2="318.30" y2="721.20" stroke="#231815" stroke-width="1.6" />
<line x1="304.40" y1="717.60" x2="304.40" y2="724.80" stroke="#231815" stroke-width="1.6" />
<line x1="318.30" y1="717.60" x2="318.30" y2="724.80" stroke="#231815" stroke-width="1.6" />
<circle cx="311.4" cy="721.2" r="1.9" fill="#231815"/>
<line x1="325.40" y1="731.20" x2="338.20" y2="731.20" stroke="#231815" stroke-width="1.6" />
<line x1="325.40" y1="727.60" x2="325.40" y2="734.80" stroke="#231815" stroke-width="1.6" />
<line x1="338.20" y1="727.60" x2="338.20" y2="734.80" stroke="#231815" stroke-width="1.6" />
<circle cx="331.8" cy="731.2" r="1.9" fill="#231815"/>
<line x1="318.30" y1="744.10" x2="330.70" y2="744.10" stroke="#231815" stroke-width="1.6" />
<line x1="318.30" y1="740.50" x2="318.30" y2="747.70" stroke="#231815" stroke-width="1.6" />
<line x1="330.70" y1="740.50" x2="330.70" y2="747.70" stroke="#231815" stroke-width="1.6" />
<circle cx="324.5" cy="744.1" r="1.9" fill="#231815"/>
<line x1="378.30" y1="717.30" x2="396.40" y2="717.30" stroke="#231815" stroke-width="1.6" />
<line x1="378.30" y1="713.70" x2="378.30" y2="720.90" stroke="#231815" stroke-width="1.6" />
<line x1="396.40" y1="713.70" x2="396.40" y2="720.90" stroke="#231815" stroke-width="1.6" />
<circle cx="387.4" cy="717.3" r="1.9" fill="#231815"/>
<line x1="359.00" y1="731.20" x2="378.30" y2="731.20" stroke="#231815" stroke-width="1.6" />
<line x1="359.00" y1="727.60" x2="359.00" y2="734.80" stroke="#231815" stroke-width="1.6" />
<line x1="378.30" y1="727.60" x2="378.30" y2="734.80" stroke="#231815" stroke-width="1.6" />
<circle cx="368.6" cy="731.2" r="1.9" fill="#231815"/>
<line x1="244.80" y1="1029.30" x2="252.80" y2="1029.30" stroke="#1f2a75" stroke-width="1.5" />
<line x1="244.80" y1="1025.90" x2="244.80" y2="1032.70" stroke="#1f2a75" stroke-width="1.5" />
<line x1="252.80" y1="1025.90" x2="252.80" y2="1032.70" stroke="#1f2a75" stroke-width="1.5" />
<circle cx="248.8" cy="1029.3" r="2.3" fill="#1f2a75"/>
<line x1="294.30" y1="1015.10" x2="303.70" y2="1015.10" stroke="#1f2a75" stroke-width="1.5" />
<line x1="294.30" y1="1011.70" x2="294.30" y2="1018.50" stroke="#1f2a75" stroke-width="1.5" />
<line x1="303.70" y1="1011.70" x2="303.70" y2="1018.50" stroke="#1f2a75" stroke-width="1.5" />
<circle cx="299.0" cy="1015.1" r="2.3" fill="#1f2a75"/>
<line x1="294.30" y1="1027.70" x2="303.70" y2="1027.70" stroke="#1f2a75" stroke-width="1.5" />
<line x1="294.30" y1="1024.30" x2="294.30" y2="1031.10" stroke="#1f2a75" stroke-width="1.5" />
<line x1="303.70" y1="1024.30" x2="303.70" y2="1031.10" stroke="#1f2a75" stroke-width="1.5" />
<circle cx="299.0" cy="1027.7" r="2.3" fill="#1f2a75"/>
<line x1="317.00" y1="1027.70" x2="330.40" y2="1027.70" stroke="#1f2a75" stroke-width="1.5" />
<line x1="317.00" y1="1024.30" x2="317.00" y2="1031.10" stroke="#1f2a75" stroke-width="1.5" />
<line x1="330.40" y1="1024.30" x2="330.40" y2="1031.10" stroke="#1f2a75" stroke-width="1.5" />
<circle cx="323.7" cy="1027.7" r="2.3" fill="#1f2a75"/>
<line x1="331.80" y1="1027.70" x2="345.20" y2="1027.70" stroke="#1f2a75" stroke-width="1.5" />
<line x1="331.80" y1="1024.30" x2="331.80" y2="1031.10" stroke="#1f2a75" stroke-width="1.5" />
<line x1="345.20" y1="1024.30" x2="345.20" y2="1031.10" stroke="#1f2a75" stroke-width="1.5" />
<circle cx="338.5" cy="1027.7" r="2.3" fill="#1f2a75"/>
<line x1="355.90" y1="1027.70" x2="365.20" y2="1027.70" stroke="#1f2a75" stroke-width="1.5" />
<line x1="355.90" y1="1024.30" x2="355.90" y2="1031.10" stroke="#1f2a75" stroke-width="1.5" />
<line x1="365.20" y1="1024.30" x2="365.20" y2="1031.10" stroke="#1f2a75" stroke-width="1.5" />
<circle cx="360.5" cy="1027.7" r="2.3" fill="#1f2a75"/>
<line x1="278.30" y1="1037.80" x2="286.30" y2="1037.80" stroke="#1f2a75" stroke-width="1.5" />
<line x1="278.30" y1="1034.40" x2="278.30" y2="1041.20" stroke="#1f2a75" stroke-width="1.5" />
<line x1="286.30" y1="1034.40" x2="286.30" y2="1041.20" stroke="#1f2a75" stroke-width="1.5" />
<circle cx="282.3" cy="1037.8" r="2.3" fill="#1f2a75"/>
<line x1="299.70" y1="1037.80" x2="307.70" y2="1037.80" stroke="#1f2a75" stroke-width="1.5" />
<line x1="299.70" y1="1034.40" x2="299.70" y2="1041.20" stroke="#1f2a75" stroke-width="1.5" />
<line x1="307.70" y1="1034.40" x2="307.70" y2="1041.20" stroke="#1f2a75" stroke-width="1.5" />
<circle cx="303.7" cy="1037.8" r="2.3" fill="#1f2a75"/>
<line x1="318.40" y1="1037.80" x2="330.40" y2="1037.80" stroke="#1f2a75" stroke-width="1.5" />
<line x1="318.40" y1="1034.40" x2="318.40" y2="1041.20" stroke="#1f2a75" stroke-width="1.5" />
<line x1="330.40" y1="1034.40" x2="330.40" y2="1041.20" stroke="#1f2a75" stroke-width="1.5" />
<circle cx="324.4" cy="1037.8" r="2.3" fill="#1f2a75"/>
<line x1="333.10" y1="1037.80" x2="342.50" y2="1037.80" stroke="#1f2a75" stroke-width="1.5" />
<line x1="333.10" y1="1034.40" x2="333.10" y2="1041.20" stroke="#1f2a75" stroke-width="1.5" />
<line x1="342.50" y1="1034.40" x2="342.50" y2="1041.20" stroke="#1f2a75" stroke-width="1.5" />
<circle cx="337.8" cy="1037.8" r="2.3" fill="#1f2a75"/>
<line x1="353.20" y1="1037.80" x2="362.50" y2="1037.80" stroke="#1f2a75" stroke-width="1.5" />
<line x1="353.20" y1="1034.40" x2="353.20" y2="1041.20" stroke="#1f2a75" stroke-width="1.5" />
<line x1="362.50" y1="1034.40" x2="362.50" y2="1041.20" stroke="#1f2a75" stroke-width="1.5" />
<circle cx="357.9" cy="1037.8" r="2.3" fill="#1f2a75"/>
<line x1="371.90" y1="1037.80" x2="388.00" y2="1037.80" stroke="#1f2a75" stroke-width="1.5" />
<line x1="371.90" y1="1034.40" x2="371.90" y2="1041.20" stroke="#1f2a75" stroke-width="1.5" />
<line x1="388.00" y1="1034.40" x2="388.00" y2="1041.20" stroke="#1f2a75" stroke-width="1.5" />
<circle cx="379.9" cy="1037.8" r="2.3" fill="#1f2a75"/>
<line x1="293.00" y1="1047.20" x2="301.00" y2="1047.20" stroke="#1f2a75" stroke-width="1.5" />
<line x1="293.00" y1="1043.80" x2="293.00" y2="1050.60" stroke="#1f2a75" stroke-width="1.5" />
<line x1="301.00" y1="1043.80" x2="301.00" y2="1050.60" stroke="#1f2a75" stroke-width="1.5" />
<circle cx="297.0" cy="1047.2" r="2.3" fill="#1f2a75"/>
<line x1="313.00" y1="1047.20" x2="331.80" y2="1047.20" stroke="#1f2a75" stroke-width="1.5" />
<line x1="313.00" y1="1043.80" x2="313.00" y2="1050.60" stroke="#1f2a75" stroke-width="1.5" />
<line x1="331.80" y1="1043.80" x2="331.80" y2="1050.60" stroke="#1f2a75" stroke-width="1.5" />
<circle cx="322.4" cy="1047.2" r="2.3" fill="#1f2a75"/>
<line x1="342.50" y1="1047.20" x2="351.80" y2="1047.20" stroke="#1f2a75" stroke-width="1.5" />
<line x1="342.50" y1="1043.80" x2="342.50" y2="1050.60" stroke="#1f2a75" stroke-width="1.5" />
<line x1="351.80" y1="1043.80" x2="351.80" y2="1050.60" stroke="#1f2a75" stroke-width="1.5" />
<circle cx="347.1" cy="1047.2" r="2.3" fill="#1f2a75"/>
<line x1="365.20" y1="1047.20" x2="373.20" y2="1047.20" stroke="#1f2a75" stroke-width="1.5" />
<line x1="365.20" y1="1043.80" x2="365.20" y2="1050.60" stroke="#1f2a75" stroke-width="1.5" />
<line x1="373.20" y1="1043.80" x2="373.20" y2="1050.60" stroke="#1f2a75" stroke-width="1.5" />
<circle cx="369.2" cy="1047.2" r="2.3" fill="#1f2a75"/>
<line x1="306.60" y1="1230.30" x2="315.70" y2="1230.30" stroke="#a01a5e" stroke-width="1.5" />
<line x1="306.60" y1="1226.90" x2="306.60" y2="1233.70" stroke="#a01a5e" stroke-width="1.5" />
<line x1="315.70" y1="1226.90" x2="315.70" y2="1233.70" stroke="#a01a5e" stroke-width="1.5" />
<circle cx="311.1" cy="1230.3" r="2.0" fill="#a01a5e"/>
<line x1="324.00" y1="1230.30" x2="332.30" y2="1230.30" stroke="#a01a5e" stroke-width="1.5" />
<line x1="324.00" y1="1226.90" x2="324.00" y2="1233.70" stroke="#a01a5e" stroke-width="1.5" />
<line x1="332.30" y1="1226.90" x2="332.30" y2="1233.70" stroke="#a01a5e" stroke-width="1.5" />
<circle cx="328.1" cy="1230.3" r="2.0" fill="#a01a5e"/>
<line x1="360.00" y1="1236.90" x2="372.50" y2="1236.90" stroke="#a01a5e" stroke-width="1.5" />
<line x1="360.00" y1="1233.50" x2="360.00" y2="1240.30" stroke="#a01a5e" stroke-width="1.5" />
<line x1="372.50" y1="1233.50" x2="372.50" y2="1240.30" stroke="#a01a5e" stroke-width="1.5" />
<circle cx="366.2" cy="1236.9" r="2.0" fill="#a01a5e"/>
<line x1="292.00" y1="1246.00" x2="306.10" y2="1246.00" stroke="#a01a5e" stroke-width="1.5" />
<line x1="292.00" y1="1242.60" x2="292.00" y2="1249.40" stroke="#a01a5e" stroke-width="1.5" />
<line x1="306.10" y1="1242.60" x2="306.10" y2="1249.40" stroke="#a01a5e" stroke-width="1.5" />
<circle cx="299.1" cy="1246.0" r="2.0" fill="#a01a5e"/>
<line x1="317.70" y1="1246.00" x2="328.10" y2="1246.00" stroke="#a01a5e" stroke-width="1.5" />
<line x1="317.70" y1="1242.60" x2="317.70" y2="1249.40" stroke="#a01a5e" stroke-width="1.5" />
<line x1="328.10" y1="1242.60" x2="328.10" y2="1249.40" stroke="#a01a5e" stroke-width="1.5" />
<circle cx="322.9" cy="1246.0" r="2.0" fill="#a01a5e"/>
<line x1="341.80" y1="1246.00" x2="351.30" y2="1246.00" stroke="#a01a5e" stroke-width="1.5" />
<line x1="341.80" y1="1242.60" x2="341.80" y2="1249.40" stroke="#a01a5e" stroke-width="1.5" />
<line x1="351.30" y1="1242.60" x2="351.30" y2="1249.40" stroke="#a01a5e" stroke-width="1.5" />
<circle cx="346.6" cy="1246.0" r="2.0" fill="#a01a5e"/>
<line x1="375.00" y1="1246.00" x2="384.50" y2="1246.00" stroke="#a01a5e" stroke-width="1.5" />
<line x1="375.00" y1="1242.60" x2="375.00" y2="1249.40" stroke="#a01a5e" stroke-width="1.5" />
<line x1="384.50" y1="1242.60" x2="384.50" y2="1249.40" stroke="#a01a5e" stroke-width="1.5" />
<circle cx="379.8" cy="1246.0" r="2.0" fill="#a01a5e"/>
<line x1="348.00" y1="1257.70" x2="358.00" y2="1257.70" stroke="#a01a5e" stroke-width="1.5" />
<line x1="348.00" y1="1254.30" x2="348.00" y2="1261.10" stroke="#a01a5e" stroke-width="1.5" />
<line x1="358.00" y1="1254.30" x2="358.00" y2="1261.10" stroke="#a01a5e" stroke-width="1.5" />
<circle cx="353.0" cy="1257.7" r="2.0" fill="#a01a5e"/>
<line x1="311.50" y1="1373.80" x2="320.70" y2="1373.80" stroke="#6b6b6b" stroke-width="1.4" />
<line x1="311.50" y1="1370.60" x2="311.50" y2="1377.00" stroke="#6b6b6b" stroke-width="1.4" />
<line x1="320.70" y1="1370.60" x2="320.70" y2="1377.00" stroke="#6b6b6b" stroke-width="1.4" />
<circle cx="316.1" cy="1373.8" r="2.2" fill="#6b6b6b"/>
<line x1="433.90" y1="1373.80" x2="442.60" y2="1373.80" stroke="#6b6b6b" stroke-width="1.4" />
<line x1="433.90" y1="1370.60" x2="433.90" y2="1377.00" stroke="#6b6b6b" stroke-width="1.4" />
<line x1="442.60" y1="1370.60" x2="442.60" y2="1377.00" stroke="#6b6b6b" stroke-width="1.4" />
<circle cx="438.2" cy="1373.8" r="2.2" fill="#6b6b6b"/>
<line x1="270.00" y1="1381.30" x2="282.50" y2="1381.30" stroke="#6b6b6b" stroke-width="1.4" />
<line x1="270.00" y1="1378.10" x2="270.00" y2="1384.50" stroke="#6b6b6b" stroke-width="1.4" />
<line x1="282.50" y1="1378.10" x2="282.50" y2="1384.50" stroke="#6b6b6b" stroke-width="1.4" />
<circle cx="276.2" cy="1381.3" r="2.2" fill="#6b6b6b"/>
<line x1="287.50" y1="1381.30" x2="297.40" y2="1381.30" stroke="#6b6b6b" stroke-width="1.4" />
<line x1="287.50" y1="1378.10" x2="287.50" y2="1384.50" stroke="#6b6b6b" stroke-width="1.4" />
<line x1="297.40" y1="1378.10" x2="297.40" y2="1384.50" stroke="#6b6b6b" stroke-width="1.4" />
<circle cx="292.4" cy="1381.3" r="2.2" fill="#6b6b6b"/>
<line x1="317.70" y1="1381.30" x2="329.40" y2="1381.30" stroke="#6b6b6b" stroke-width="1.4" />
<line x1="317.70" y1="1378.10" x2="317.70" y2="1384.50" stroke="#6b6b6b" stroke-width="1.4" />
<line x1="329.40" y1="1378.10" x2="329.40" y2="1384.50" stroke="#6b6b6b" stroke-width="1.4" />
<circle cx="323.5" cy="1381.3" r="2.2" fill="#6b6b6b"/>
<line x1="333.10" y1="1381.30" x2="343.50" y2="1381.30" stroke="#6b6b6b" stroke-width="1.4" />
<line x1="333.10" y1="1378.10" x2="333.10" y2="1384.50" stroke="#6b6b6b" stroke-width="1.4" />
<line x1="343.50" y1="1378.10" x2="343.50" y2="1384.50" stroke="#6b6b6b" stroke-width="1.4" />
<circle cx="338.3" cy="1381.3" r="2.2" fill="#6b6b6b"/>
<line x1="351.80" y1="1381.30" x2="362.50" y2="1381.30" stroke="#6b6b6b" stroke-width="1.4" />
<line x1="351.80" y1="1378.10" x2="351.80" y2="1384.50" stroke="#6b6b6b" stroke-width="1.4" />
<line x1="362.50" y1="1378.10" x2="362.50" y2="1384.50" stroke="#6b6b6b" stroke-width="1.4" />
<circle cx="357.1" cy="1381.3" r="2.2" fill="#6b6b6b"/>
<line x1="366.30" y1="1381.30" x2="380.40" y2="1381.30" stroke="#6b6b6b" stroke-width="1.4" />
<line x1="366.30" y1="1378.10" x2="366.30" y2="1384.50" stroke="#6b6b6b" stroke-width="1.4" />
<line x1="380.40" y1="1378.10" x2="380.40" y2="1384.50" stroke="#6b6b6b" stroke-width="1.4" />
<circle cx="373.4" cy="1381.3" r="2.2" fill="#6b6b6b"/>
<line x1="383.30" y1="1381.30" x2="393.20" y2="1381.30" stroke="#6b6b6b" stroke-width="1.4" />
<line x1="383.30" y1="1378.10" x2="383.30" y2="1384.50" stroke="#6b6b6b" stroke-width="1.4" />
<line x1="393.20" y1="1378.10" x2="393.20" y2="1384.50" stroke="#6b6b6b" stroke-width="1.4" />
<circle cx="388.2" cy="1381.3" r="2.2" fill="#6b6b6b"/>
<line x1="317.70" y1="1393.30" x2="331.00" y2="1393.30" stroke="#6b6b6b" stroke-width="1.4" />
<line x1="317.70" y1="1390.10" x2="317.70" y2="1396.50" stroke="#6b6b6b" stroke-width="1.4" />
<line x1="331.00" y1="1390.10" x2="331.00" y2="1396.50" stroke="#6b6b6b" stroke-width="1.4" />
<circle cx="324.4" cy="1393.3" r="2.2" fill="#6b6b6b"/>
<line x1="358.80" y1="1393.30" x2="367.10" y2="1393.30" stroke="#6b6b6b" stroke-width="1.4" />
<line x1="358.80" y1="1390.10" x2="358.80" y2="1396.50" stroke="#6b6b6b" stroke-width="1.4" />
<line x1="367.10" y1="1390.10" x2="367.10" y2="1396.50" stroke="#6b6b6b" stroke-width="1.4" />
<circle cx="363.0" cy="1393.3" r="2.2" fill="#6b6b6b"/>
<line x1="318.60" y1="1403.70" x2="331.00" y2="1403.70" stroke="#6b6b6b" stroke-width="1.4" />
<line x1="318.60" y1="1400.50" x2="318.60" y2="1406.90" stroke="#6b6b6b" stroke-width="1.4" />
<line x1="331.00" y1="1400.50" x2="331.00" y2="1406.90" stroke="#6b6b6b" stroke-width="1.4" />
<circle cx="324.8" cy="1403.7" r="2.2" fill="#6b6b6b"/>
<line x1="109.21" y1="1420.60" x2="605.55" y2="1420.60" stroke="#231815" stroke-width="2.9" />
<line x1="110.51" y1="1420.60" x2="110.51" y2="1412.50" stroke="#231815" stroke-width="2.6" />
<line x1="120.01" y1="1420.60" x2="120.01" y2="1412.50" stroke="#231815" stroke-width="2.6" />
<line x1="129.50" y1="1420.60" x2="129.50" y2="1406.90" stroke="#231815" stroke-width="2.6" />
<line x1="139.00" y1="1420.60" x2="139.00" y2="1412.50" stroke="#231815" stroke-width="2.6" />
<line x1="148.49" y1="1420.60" x2="148.49" y2="1412.50" stroke="#231815" stroke-width="2.6" />
<line x1="157.99" y1="1420.60" x2="157.99" y2="1412.50" stroke="#231815" stroke-width="2.6" />
<line x1="167.48" y1="1420.60" x2="167.48" y2="1412.50" stroke="#231815" stroke-width="2.6" />
<line x1="176.97" y1="1420.60" x2="176.97" y2="1409.30" stroke="#231815" stroke-width="2.6" />
<line x1="186.47" y1="1420.60" x2="186.47" y2="1412.50" stroke="#231815" stroke-width="2.6" />
<line x1="195.96" y1="1420.60" x2="195.96" y2="1412.50" stroke="#231815" stroke-width="2.6" />
<line x1="205.46" y1="1420.60" x2="205.46" y2="1412.50" stroke="#231815" stroke-width="2.6" />
<line x1="214.96" y1="1420.60" x2="214.96" y2="1412.50" stroke="#231815" stroke-width="2.6" />
<line x1="224.45" y1="1420.60" x2="224.45" y2="1406.90" stroke="#231815" stroke-width="2.6" />
<line x1="233.95" y1="1420.60" x2="233.95" y2="1412.50" stroke="#231815" stroke-width="2.6" />
<line x1="243.44" y1="1420.60" x2="243.44" y2="1412.50" stroke="#231815" stroke-width="2.6" />
<line x1="252.94" y1="1420.60" x2="252.94" y2="1412.50" stroke="#231815" stroke-width="2.6" />
<line x1="262.43" y1="1420.60" x2="262.43" y2="1412.50" stroke="#231815" stroke-width="2.6" />
<line x1="271.93" y1="1420.60" x2="271.93" y2="1409.30" stroke="#231815" stroke-width="2.6" />
<line x1="281.42" y1="1420.60" x2="281.42" y2="1412.50" stroke="#231815" stroke-width="2.6" />
<line x1="290.91" y1="1420.60" x2="290.91" y2="1412.50" stroke="#231815" stroke-width="2.6" />
<line x1="300.41" y1="1420.60" x2="300.41" y2="1412.50" stroke="#231815" stroke-width="2.6" />
<line x1="309.91" y1="1420.60" x2="309.91" y2="1412.50" stroke="#231815" stroke-width="2.6" />
<line x1="319.40" y1="1420.60" x2="319.40" y2="1406.90" stroke="#231815" stroke-width="2.6" />
<line x1="328.90" y1="1420.60" x2="328.90" y2="1412.50" stroke="#231815" stroke-width="2.6" />
<line x1="338.39" y1="1420.60" x2="338.39" y2="1412.50" stroke="#231815" stroke-width="2.6" />
<line x1="347.89" y1="1420.60" x2="347.89" y2="1412.50" stroke="#231815" stroke-width="2.6" />
<line x1="357.38" y1="1420.60" x2="357.38" y2="1412.50" stroke="#231815" stroke-width="2.6" />
<line x1="366.88" y1="1420.60" x2="366.88" y2="1409.30" stroke="#231815" stroke-width="2.6" />
<line x1="376.37" y1="1420.60" x2="376.37" y2="1412.50" stroke="#231815" stroke-width="2.6" />
<line x1="385.87" y1="1420.60" x2="385.87" y2="1412.50" stroke="#231815" stroke-width="2.6" />
<line x1="395.36" y1="1420.60" x2="395.36" y2="1412.50" stroke="#231815" stroke-width="2.6" />
<line x1="404.86" y1="1420.60" x2="404.86" y2="1412.50" stroke="#231815" stroke-width="2.6" />
<line x1="414.35" y1="1420.60" x2="414.35" y2="1406.90" stroke="#231815" stroke-width="2.6" />
<line x1="423.85" y1="1420.60" x2="423.85" y2="1412.50" stroke="#231815" stroke-width="2.6" />
<line x1="433.34" y1="1420.60" x2="433.34" y2="1412.50" stroke="#231815" stroke-width="2.6" />
<line x1="442.84" y1="1420.60" x2="442.84" y2="1412.50" stroke="#231815" stroke-width="2.6" />
<line x1="452.33" y1="1420.60" x2="452.33" y2="1412.50" stroke="#231815" stroke-width="2.6" />
<line x1="461.82" y1="1420.60" x2="461.82" y2="1409.30" stroke="#231815" stroke-width="2.6" />
<line x1="471.32" y1="1420.60" x2="471.32" y2="1412.50" stroke="#231815" stroke-width="2.6" />
<line x1="480.82" y1="1420.60" x2="480.82" y2="1412.50" stroke="#231815" stroke-width="2.6" />
<line x1="490.31" y1="1420.60" x2="490.31" y2="1412.50" stroke="#231815" stroke-width="2.6" />
<line x1="499.81" y1="1420.60" x2="499.81" y2="1412.50" stroke="#231815" stroke-width="2.6" />
<line x1="509.30" y1="1420.60" x2="509.30" y2="1406.90" stroke="#231815" stroke-width="2.6" />
<line x1="518.80" y1="1420.60" x2="518.80" y2="1412.50" stroke="#231815" stroke-width="2.6" />
<line x1="528.29" y1="1420.60" x2="528.29" y2="1412.50" stroke="#231815" stroke-width="2.6" />
<line x1="537.79" y1="1420.60" x2="537.79" y2="1412.50" stroke="#231815" stroke-width="2.6" />
<line x1="547.28" y1="1420.60" x2="547.28" y2="1412.50" stroke="#231815" stroke-width="2.6" />
<line x1="556.78" y1="1420.60" x2="556.78" y2="1409.30" stroke="#231815" stroke-width="2.6" />
<line x1="566.27" y1="1420.60" x2="566.27" y2="1412.50" stroke="#231815" stroke-width="2.6" />
<line x1="575.77" y1="1420.60" x2="575.77" y2="1412.50" stroke="#231815" stroke-width="2.6" />
<line x1="585.26" y1="1420.60" x2="585.26" y2="1412.50" stroke="#231815" stroke-width="2.6" />
<line x1="594.76" y1="1420.60" x2="594.76" y2="1412.50" stroke="#231815" stroke-width="2.6" />
<line x1="604.25" y1="1420.60" x2="604.25" y2="1406.90" stroke="#231815" stroke-width="2.6" />
<text x="110.73" y="1450.8" font-size="29.6" fill="#231815" textLength="32.38" lengthAdjust="spacingAndGlyphs">22</text>
<text x="205.65" y="1450.8" font-size="29.6" fill="#231815" textLength="31.83" lengthAdjust="spacingAndGlyphs">23</text>
<text x="300.98" y="1450.8" font-size="29.6" fill="#231815" textLength="31.10" lengthAdjust="spacingAndGlyphs">24</text>
<text x="396.98" y="1448.9" font-size="29.6" fill="#231815" textLength="31.18" lengthAdjust="spacingAndGlyphs">25</text>
<text x="491.56" y="1450.8" font-size="29.6" fill="#231815" textLength="31.51" lengthAdjust="spacingAndGlyphs">26</text>
<text x="586.58" y="1450.8" font-size="29.6" fill="#231815" textLength="31.28" lengthAdjust="spacingAndGlyphs">27</text>
<text x="256.40" y="1468.9" font-size="15.5" fill="#231815" textLength="26.33" lengthAdjust="spacingAndGlyphs">230</text>
<text x="283.85" y="1480.1" font-size="29.6" fill="#231815" textLength="190.19" lengthAdjust="spacingAndGlyphs">Th Age (ky, BP)</text>
<defs><clipPath id="cf"><rect x="799.6" y="231.3" width="678.3" height="354.4"/></clipPath><clipPath id="cg"><rect x="797.6" y="848" width="680" height="391"/></clipPath></defs>
<g clip-path="url(#cf)">
<rect x="799" y="231" width="681" height="356" fill="#d0e9f8"/>
<path d="M795.0,225.0 L795.0,280.0 L800.0,280.0 L815.0,279.0 L830.0,276.0 L843.0,297.0 L858.8,321.0 L872.0,314.0 L885.3,308.0 L917.8,286.2 L945.0,287.0 L975.0,288.0 L983.1,298.2 L1001.1,307.9 L1019.2,316.3 L1030.0,322.1 L1056.8,327.5 L1076.9,328.8 L1096.9,326.1 L1123.7,319.5 L1137.1,308.7 L1150.5,296.7 L1159.0,293.0 L1183.2,286.0 L1210.0,278.0 L1231.3,269.0 L1258.0,257.8 L1280.0,248.0 L1306.0,239.0 L1325.0,231.0 L1325.0,225.0 Z" fill="#fdfdfb" />
<path d="M795.0,225.0 L795.0,276.6 L800.0,276.6 L830.0,273.6 L843.0,290.7 L858.8,310.3 L885.3,297.0 L917.8,276.6 L945.0,279.0 L975.0,281.4 L983.1,286.2 L1001.1,299.4 L1019.2,307.9 L1037.2,312.7 L1055.3,317.5 L1073.4,319.9 L1091.4,317.5 L1109.5,315.1 L1127.5,311.0 L1145.0,302.0 L1159.1,291.0 L1183.2,281.0 L1207.2,273.0 L1231.3,263.0 L1255.4,246.9 L1279.5,234.6 L1285.0,231.0 L1285.0,225.0 Z" fill="#fbeecb" />
<path d="M795.0,225.0 L795.0,273.6 L800.0,273.6 L830.0,271.8 L843.0,283.8 L858.8,299.4 L885.3,286.2 L917.8,265.7 L945.0,270.0 L975.0,274.2 L983.1,279.0 L1001.1,291.0 L1019.2,299.4 L1037.2,304.3 L1055.3,307.9 L1073.4,310.3 L1091.4,309.1 L1109.5,309.0 L1127.5,306.0 L1145.0,298.0 L1159.1,286.0 L1183.2,278.0 L1207.2,269.8 L1231.3,258.9 L1255.4,242.1 L1270.0,231.0 L1270.0,225.0 Z" fill="#f7dd96" />
<path d="M795.0,225.0 L795.0,270.0 L800.0,270.0 L830.0,269.3 L843.0,277.8 L858.8,288.6 L885.3,276.6 L917.8,256.7 L945.0,262.0 L975.0,266.9 L983.1,273.6 L1001.1,282.6 L1019.2,291.0 L1037.2,295.8 L1055.3,298.2 L1073.4,300.6 L1091.4,300.6 L1109.5,302.0 L1127.5,301.0 L1145.0,294.0 L1159.1,283.0 L1183.2,274.6 L1207.2,263.7 L1231.3,251.7 L1255.4,236.0 L1262.0,231.0 L1262.0,225.0 Z" fill="#f5cd62" />
<path d="M795.0,225.0 L795.0,265.7 L800.0,265.7 L830.0,265.7 L843.0,271.8 L858.8,281.4 L885.3,265.7 L917.8,250.1 L945.0,255.0 L975.0,259.7 L983.1,264.5 L1001.1,273.0 L1019.2,282.6 L1037.2,289.8 L1055.3,291.0 L1073.4,293.4 L1091.4,289.8 L1109.5,296.0 L1127.5,296.0 L1145.0,289.0 L1159.1,279.4 L1183.2,269.8 L1207.2,258.9 L1231.3,243.3 L1250.0,231.0 L1250.0,225.0 Z" fill="#f3bf38" />
<path d="M795.0,225.0 L795.0,262.7 L800.0,262.7 L830.0,260.9 L843.0,266.9 L858.8,273.0 L885.3,253.7 L917.8,245.3 L945.0,248.0 L975.0,250.1 L983.1,256.1 L1001.1,264.5 L1019.2,276.6 L1037.2,281.4 L1055.3,280.8 L1073.4,282.6 L1091.4,279.0 L1109.5,289.0 L1127.5,291.0 L1145.0,285.0 L1159.1,274.6 L1183.2,262.5 L1207.2,249.3 L1231.3,233.6 L1240.0,231.0 L1240.0,225.0 Z" fill="#ef9530" />
<path d="M829.5,225.0 L829.5,231.0 L820.3,258.5 L834.7,250.1 L845.6,246.5 L852.8,259.7 L858.8,265.7 L867.2,258.5 L879.3,240.5 L915.4,238.6 L945.0,238.0 L975.0,237.4 L983.1,248.9 L1001.1,256.1 L1019.2,266.9 L1037.2,276.6 L1055.3,276.6 L1073.4,277.2 L1091.4,273.6 L1109.5,282.0 L1127.5,285.0 L1145.0,280.0 L1159.1,269.8 L1183.2,257.7 L1195.2,246.0 L1207.2,240.7 L1217.0,231.0 L1217.0,225.0 Z" fill="#ea6a27" />
<path d="M979.4,225.0 L979.4,231.0 L983.1,236.8 L1001.1,250.1 L1019.2,257.3 L1037.2,270.5 L1055.3,270.0 L1073.4,270.0 L1091.4,265.7 L1109.5,277.0 L1127.5,280.0 L1145.0,275.0 L1159.1,265.5 L1183.2,249.1 L1189.2,231.0 L1189.2,225.0 Z" fill="#e5461f" />
<path d="M987.9,225.0 L987.9,231.0 L1001.1,241.7 L1019.2,250.1 L1032.4,264.5 L1055.3,264.5 L1073.4,263.9 L1090.2,259.7 L1100.0,255.0 L1109.5,271.0 L1127.5,275.0 L1145.0,270.0 L1155.5,264.7 L1176.5,257.5 L1177.1,231.0 L1177.1,225.0 Z" fill="#e02419" />
<path d="M800.5,361.2 L822.7,369.2 L841.2,365.8 L855.0,369.2 L878.1,376.2 L887.3,385.4 L894.2,396.9 L898.9,406.2 L908.1,415.4 L915.0,424.6 L916.2,433.9 L920.8,447.7 L933.5,456.9 L945.0,461.6 L951.9,470.8 L956.5,482.3 L961.2,500.8 L963.5,519.2 L965.8,542.3 L966.9,586.0 L800.5,586.0 Z" fill="#fdfdfb" />
<path d="M995.8,586.2 L995.8,521.6 L1002.7,514.6 L1021.2,512.3 L1048.9,504.2 L1060.4,493.9 L1071.9,484.6 L1080.0,475.4 L1081.2,459.2 L1095.0,457.6 L1115.8,452.3 L1127.3,438.5 L1134.3,459.2 L1140.0,475.4 L1149.7,482.4 L1157.0,506.7 L1159.4,543.0 L1158.2,586.2 Z" fill="#fdfdfb" />
<path d="M804.2,586.2 L803.1,537.7 L800.8,530.8 L800.8,456.9 L805.4,429.2 L811.2,403.9 L816.9,398.1 L864.2,395.8 L871.2,401.5 L875.8,415.4 L882.7,425.8 L894.2,436.2 L900.0,447.7 L904.6,461.6 L910.4,469.6 L924.2,470.8 L935.8,474.2 L942.7,482.3 L945.0,507.7 L946.9,530.8 L947.8,553.9 L949.2,586.2 Z" fill="#fbeecb" />
<path d="M861.9,546.9 L882.7,512.3 L896.5,493.9 L919.6,486.9 L926.5,500.8 L924.2,530.8 L921.9,560.8 L898.9,561.9 L875.8,558.5 Z" fill="#f7dd96" />
<path d="M1067.3,563.1 L1075.4,548.1 L1077.7,549.2 L1076.6,576.9 Z" fill="#fbeecb" />
<path d="M800.9,282.5 L827.1,283.7 L842.8,322.5 L829.5,341.9 L812.5,354.0 L800.9,358.8 Z" fill="#a6d6f3" />
<path d="M868.8,355.4 L871.0,340.0 L875.0,325.0 L885.0,314.0 L900.0,305.0 L917.8,298.2 L945.0,299.0 L975.0,299.4 L985.0,310.0 L1001.1,317.5 L1019.2,326.0 L1030.0,334.2 L1070.2,334.2 L1110.3,330.2 L1123.7,324.8 L1146.5,324.8 L1157.2,316.8 L1163.9,303.4 L1173.2,294.0 L1212.7,283.7 L1261.1,266.8 L1309.6,247.4 L1358.0,237.7 L1380.0,231.0 L1479.0,231.0 L1479.0,586.0 L1195.0,586.0 L1185.0,560.0 L1172.0,530.0 L1165.0,500.0 L1163.9,490.0 L1159.9,470.7 L1155.8,450.6 L1150.5,430.6 L1146.5,418.5 L1143.8,409.1 L1135.8,409.1 L1113.0,427.9 L1096.9,444.0 L1076.9,454.7 L1056.8,461.0 L1030.0,462.0 L1007.3,466.2 L995.8,470.8 L979.6,477.7 L970.4,475.4 L961.2,461.6 L956.5,450.0 L938.1,448.0 L922.0,444.0 L919.6,429.2 L910.4,410.8 L905.8,394.6 L891.9,376.2 L875.8,369.2 Z" fill="#a6d6f3" />
<path d="M800.9,286.2 L822.2,288.6 L829.5,322.5 L812.5,341.9 L800.9,344.3 Z" fill="#80c4ec" />
<path d="M880.4,353.1 L884.0,336.0 L892.0,322.0 L905.0,317.0 L917.8,316.3 L945.0,317.0 L975.0,317.5 L990.0,325.0 L1010.0,340.0 L1030.0,348.9 L1047.4,352.9 L1070.2,361.0 L1087.6,370.3 L1110.3,377.0 L1126.4,382.4 L1129.1,393.1 L1117.0,407.8 L1096.9,421.2 L1083.5,430.6 L1063.5,437.3 L1043.4,444.0 L1025.8,450.0 L991.2,450.0 L979.6,445.4 L975.0,424.6 L956.5,429.2 L933.5,424.6 L926.5,410.8 L919.6,394.6 L903.5,371.5 L882.7,355.4 Z" fill="#80c4ec" />
<path d="M1150.0,330.0 L1160.0,312.0 L1175.0,303.0 L1212.7,298.3 L1261.1,283.7 L1309.6,269.2 L1358.0,254.7 L1406.5,252.0 L1430.0,245.0 L1445.0,231.0 L1470.0,231.0 L1470.0,586.0 L1213.0,586.0 L1210.0,573.6 L1196.0,540.0 L1180.5,504.0 L1172.0,460.0 L1169.0,434.0 L1170.0,420.0 L1169.0,384.0 L1164.0,365.0 L1153.0,354.0 L1150.5,337.0 Z" fill="#80c4ec" />
<path d="M1406.5,358.8 L1408.9,337.0 L1430.7,308.0 L1442.8,300.7 L1445.3,320.1 L1438.0,358.8 Z" fill="#a6d6f3" />
<path d="M800.9,291.0 L812.5,289.8 L800.9,300.7 Z" fill="#59b0e3" />
<path d="M917.3,355.4 L931.2,331.2 L968.1,330.0 L984.2,343.8 L1002.7,346.2 L1025.8,353.1 L1043.4,354.3 L1056.8,359.6 L1067.5,365.0 L1087.6,386.4 L1080.9,407.8 L1063.5,423.9 L1050.1,429.2 L1025.8,436.2 L1002.7,429.2 L991.2,424.6 L979.6,403.9 L961.2,396.9 L942.7,394.6 L928.9,376.2 L919.6,364.6 Z" fill="#59b0e3" />
<path d="M1196.0,410.0 L1202.0,385.0 L1204.0,360.0 L1193.3,346.2 L1177.3,339.5 L1163.9,330.2 L1163.9,323.5 L1173.2,310.1 L1190.6,302.0 L1210.7,310.0 L1232.1,308.0 L1285.4,300.7 L1309.6,295.8 L1353.2,286.2 L1360.5,300.7 L1358.0,329.8 L1348.4,341.9 L1343.5,361.3 L1345.9,397.6 L1358.0,421.8 L1382.3,426.7 L1406.5,407.3 L1423.5,402.5 L1433.2,417.0 L1425.9,446.1 L1406.5,470.3 L1382.3,494.5 L1358.0,518.8 L1341.1,543.0 L1333.8,572.1 L1324.1,586.0 L1241.0,586.0 L1238.0,574.0 L1225.0,555.0 L1211.0,530.0 L1199.6,504.0 L1193.0,470.0 L1192.7,434.0 Z" fill="#59b0e3" />
<path d="M927.7,357.7 L933.5,345.0 L956.5,342.7 L970.4,355.4 L961.2,371.5 L938.1,373.9 L927.7,362.3 Z" fill="#4f89c6" />
<path d="M1000.4,387.7 L1011.9,357.7 L1025.8,357.7 L1050.1,375.7 L1066.1,383.7 L1067.3,392.3 L1062.1,414.5 L1056.8,423.9 L1048.9,424.6 L1030.4,422.0 L1016.5,410.8 L1002.7,408.5 Z" fill="#4f89c6" />
<path d="M1209.2,441.4 L1211.8,420.5 L1220.5,399.6 L1234.4,368.3 L1256.3,352.8 L1290.2,354.0 L1304.7,385.5 L1309.6,417.0 L1319.3,441.2 L1333.8,446.1 L1336.2,453.3 L1326.6,463.0 L1309.6,475.2 L1302.3,506.7 L1299.9,543.0 L1297.5,567.2 L1292.6,581.8 L1280.5,579.3 L1270.0,565.0 L1260.0,549.3 L1255.3,538.8 L1248.3,524.9 L1234.4,514.5 L1224.0,504.0 L1213.5,486.6 L1210.0,469.2 L1208.3,451.8 Z" fill="#4f89c6" />
<path d="M937.0,353.8 L959.0,353.8 L959.0,357.2 L937.0,357.2 Z" fill="#3b64ae" />
<path d="M1013.0,385.4 L1025.8,387.7 L1014.2,392.3 Z" fill="#3b64ae" />
<path d="M1047.7,387.7 L1057.0,386.5 L1055.8,394.6 Z" fill="#3b64ae" />
<path d="M800.8,393.5 L818.1,396.9 L838.8,392.3 L848.1,395.8 L864.2,392.3 L870.0,394.6 L875.8,406.2 L878.1,417.7 L887.3,425.8 L894.2,436.2 L906.9,433.9 L905.8,440.8 L896.5,444.2 L898.9,450.0 L905.8,466.2 L912.7,470.8 L919.6,469.6 L926.5,461.6 L928.9,447.7 L931.2,445.4 L932.3,461.6 L933.5,477.7 L934.6,503.1 L933.5,514.6 L934.6,526.2 L938.1,546.9 L945.0,565.4 L949.6,585.0" fill="none" stroke="#000" stroke-width="2.2" stroke-linejoin="round"/>
<path d="M1009.6,576.9 L1010.8,556.2 L1014.2,553.9 L1020.0,548.1 L1025.8,545.8 L1030.4,540.0 L1032.7,530.8 L1039.6,521.6 L1048.9,514.6 L1055.8,503.1 L1065.0,489.2 L1071.9,484.6 L1076.6,480.0 L1081.2,461.6 L1083.5,459.2 L1090.4,454.6 L1092.7,448.9 L1095.0,456.9 L1104.3,454.6 L1115.8,452.3 L1127.3,438.5 L1133.1,452.3 L1136.6,466.2 L1140.0,472.7 L1149.7,484.9 L1152.1,501.8 L1154.5,518.8 L1159.4,533.3 L1158.2,547.9 L1164.2,552.7 L1171.5,552.7 L1184.8,535.7 L1189.7,540.6 L1192.1,555.1 L1195.7,576.9 L1196.9,583.0" fill="none" stroke="#000" stroke-width="2.2" stroke-linejoin="round"/>
<path d="M1312.0,583.0 L1307.2,562.4 L1297.5,543.0 L1287.8,526.0 L1278.1,506.7 L1275.7,494.5 L1280.5,480.0 L1287.8,470.3 L1297.5,460.6 L1304.7,455.8 L1312.0,457.0 L1316.9,460.6 L1319.3,467.9 L1320.5,475.2 L1324.1,477.6 L1325.3,466.7 L1333.8,458.2 L1343.5,453.3 L1353.2,446.1 L1354.4,441.2 L1358.0,446.1 L1360.5,440.0 L1365.3,443.7 L1370.2,438.8 L1382.3,436.4 L1392.0,429.1 L1401.7,419.4 L1406.5,408.5 L1411.4,407.3 L1413.8,397.6 L1421.1,385.5 L1423.5,373.4 L1430.7,358.8 L1438.0,344.3 L1442.8,332.2 L1444.1,320.1 L1446.5,312.8 L1442.8,308.0 L1433.2,310.4 L1440.5,300.7 L1445.3,293.4 L1442.8,281.3 L1440.5,276.5 L1435.6,264.3 L1433.2,252.2 L1428.4,242.5 L1426.0,237.7 L1418.7,233.0" fill="none" stroke="#000" stroke-width="2.2" stroke-linejoin="round"/>
<path d="M1307.2,494.5 L1309.6,489.7 L1316.9,484.9 L1331.4,483.6 L1332.6,487.3 L1326.6,501.8 L1319.3,511.5 L1312.0,511.5 L1308.4,506.7 Z" fill="none" stroke="#000" stroke-width="2.2" stroke-linejoin="round"/>
<path d="M1427.1,421.8 L1430.7,404.9 L1438.0,397.6 L1444.1,395.2 L1445.3,402.5 L1442.8,417.0 L1438.0,429.1 L1434.4,448.5 L1430.7,438.8 L1427.1,429.1 Z" fill="none" stroke="#000" stroke-width="2.2" stroke-linejoin="round"/>
<path d="M1430.7,509.1 L1438.0,506.7 L1442.8,511.5 L1450.1,509.1 L1448.9,530.9 L1451.3,533.3 L1447.7,550.3 L1444.1,567.2 L1447.7,579.3 L1452.0,583.0 L1436.0,583.0 L1434.0,577.0 L1427.0,574.0 L1424.0,548.0 L1430.0,540.0 L1431.0,520.0 Z" fill="none" stroke="#000" stroke-width="2.2" stroke-linejoin="round"/>
<rect x="1468.9" y="231" width="12" height="356" fill="#fff"/>
</g>
<rect x="799.6" y="231.3" width="678.3000000000001" height="354.40000000000003" fill="none" stroke="#231815" stroke-width="2.8"/>
<line x1="799.60" y1="281.00" x2="814.40" y2="281.00" stroke="#231815" stroke-width="2.6" />
<line x1="1477.90" y1="281.00" x2="1462.70" y2="281.00" stroke="#231815" stroke-width="2.6" />
<line x1="799.60" y1="348.50" x2="814.40" y2="348.50" stroke="#231815" stroke-width="2.6" />
<line x1="1477.90" y1="348.50" x2="1462.70" y2="348.50" stroke="#231815" stroke-width="2.6" />
<line x1="799.60" y1="415.80" x2="814.40" y2="415.80" stroke="#231815" stroke-width="2.6" />
<line x1="1477.90" y1="415.80" x2="1462.70" y2="415.80" stroke="#231815" stroke-width="2.6" />
<line x1="799.60" y1="482.80" x2="814.40" y2="482.80" stroke="#231815" stroke-width="2.6" />
<line x1="1477.90" y1="482.80" x2="1462.70" y2="482.80" stroke="#231815" stroke-width="2.6" />
<line x1="799.60" y1="550.00" x2="814.40" y2="550.00" stroke="#231815" stroke-width="2.6" />
<line x1="1477.90" y1="550.00" x2="1462.70" y2="550.00" stroke="#231815" stroke-width="2.6" />
<line x1="847.10" y1="585.70" x2="847.10" y2="572.70" stroke="#231815" stroke-width="2.6" />
<line x1="930.50" y1="585.70" x2="930.50" y2="572.70" stroke="#231815" stroke-width="2.6" />
<line x1="1013.90" y1="585.70" x2="1013.90" y2="572.70" stroke="#231815" stroke-width="2.6" />
<line x1="1097.30" y1="585.70" x2="1097.30" y2="572.70" stroke="#231815" stroke-width="2.6" />
<line x1="1180.70" y1="585.70" x2="1180.70" y2="572.70" stroke="#231815" stroke-width="2.6" />
<line x1="1264.10" y1="585.70" x2="1264.10" y2="572.70" stroke="#231815" stroke-width="2.6" />
<line x1="1347.50" y1="585.70" x2="1347.50" y2="572.70" stroke="#231815" stroke-width="2.6" />
<line x1="1430.90" y1="585.70" x2="1430.90" y2="572.70" stroke="#231815" stroke-width="2.6" />
<line x1="841.30" y1="231.30" x2="841.30" y2="241.30" stroke="#231815" stroke-width="2.6" />
<line x1="924.60" y1="231.30" x2="924.60" y2="241.30" stroke="#231815" stroke-width="2.6" />
<line x1="1007.90" y1="231.30" x2="1007.90" y2="241.30" stroke="#231815" stroke-width="2.6" />
<line x1="1091.20" y1="231.30" x2="1091.20" y2="241.30" stroke="#231815" stroke-width="2.6" />
<line x1="1174.50" y1="231.30" x2="1174.50" y2="241.30" stroke="#231815" stroke-width="2.6" />
<line x1="1257.80" y1="231.30" x2="1257.80" y2="241.30" stroke="#231815" stroke-width="2.6" />
<line x1="1341.10" y1="231.30" x2="1341.10" y2="241.30" stroke="#231815" stroke-width="2.6" />
<line x1="1424.40" y1="231.30" x2="1424.40" y2="241.30" stroke="#231815" stroke-width="2.6" />
<text x="728.25" y="290.0" font-size="29.6" fill="#231815" textLength="63.08" lengthAdjust="spacingAndGlyphs">32°N</text>
<text x="727.86" y="356.5" font-size="29.6" fill="#231815" textLength="63.49" lengthAdjust="spacingAndGlyphs">28°N</text>
<text x="727.86" y="423.0" font-size="29.6" fill="#231815" textLength="63.49" lengthAdjust="spacingAndGlyphs">24°N</text>
<text x="727.86" y="490.2" font-size="29.6" fill="#231815" textLength="63.49" lengthAdjust="spacingAndGlyphs">20°N</text>
<text x="729.13" y="557.6" font-size="29.6" fill="#231815" textLength="62.17" lengthAdjust="spacingAndGlyphs">16°N</text>
<text x="825.44" y="612.2" font-size="29.6" fill="#231815" textLength="62.84" lengthAdjust="spacingAndGlyphs">64°E</text>
<text x="994.25" y="612.2" font-size="29.6" fill="#231815" textLength="61.91" lengthAdjust="spacingAndGlyphs">80°E</text>
<text x="1162.05" y="612.2" font-size="29.6" fill="#231815" textLength="62.01" lengthAdjust="spacingAndGlyphs">96°E</text>
<text x="1326.05" y="612.2" font-size="29.6" fill="#231815" textLength="73.44" lengthAdjust="spacingAndGlyphs">112°E</text>
<text x="765.0" y="205.0" font-size="28" fill="#231815" text-anchor="start" font-weight="bold" >f</text>
<text x="1044.9" y="215.6" font-size="29.6" fill="#231815" text-anchor="start" font-weight="normal" textLength="183.9" lengthAdjust="spacingAndGlyphs" >JJA minus DJF</text>
<path d="M1145.1,385.4 L1148.3,394.0 L1157.5,394.4 L1150.3,400.1 L1152.7,408.9 L1145.1,403.9 L1137.5,408.9 L1139.9,400.1 L1132.7,394.4 L1141.9,394.0 Z" fill="#dc1f26" />
<path d="M1284.9,263.5 L1288.1,272.1 L1297.3,272.5 L1290.1,278.2 L1292.5,287.0 L1284.9,282.0 L1277.3,287.0 L1279.7,278.2 L1272.5,272.5 L1281.7,272.1 Z" fill="#dc1f26" />
<path d="M1336.7,280.4 L1339.9,289.0 L1349.1,289.4 L1341.9,295.1 L1344.3,303.9 L1336.7,298.9 L1329.1,303.9 L1331.5,295.1 L1324.3,289.4 L1333.5,289.0 Z" fill="#dc1f26" />
<text x="981.9" y="348.6" font-size="29.6" fill="#231815" text-anchor="start" font-weight="normal" textLength="168.5" lengthAdjust="spacingAndGlyphs" >Cherrapunji &</text>
<text x="967.2" y="382.0" font-size="29.6" fill="#231815" text-anchor="start" font-weight="normal" textLength="205.4" lengthAdjust="spacingAndGlyphs" >Mawmluh Caves</text>
<text x="1126.4" y="288.8" font-size="29.6" fill="#231815" text-anchor="start" font-weight="normal" textLength="148.2" lengthAdjust="spacingAndGlyphs" >Dongqinghe</text>
<text x="1172.7" y="322.5" font-size="29.6" fill="#231815" text-anchor="start" font-weight="normal" textLength="63" lengthAdjust="spacingAndGlyphs" >Cave</text>
<text x="1309.6" y="329.8" font-size="29.6" fill="#231815" text-anchor="start" font-weight="normal" textLength="110.2" lengthAdjust="spacingAndGlyphs" >Yongxing</text>
<text x="1336.2" y="363.7" font-size="29.6" fill="#231815" text-anchor="start" font-weight="normal" textLength="63" lengthAdjust="spacingAndGlyphs" >Cave</text>
<rect x="798.30" y="638.2" width="40.63" height="33.39999999999998" fill="#26419a"/>
<rect x="838.33" y="638.2" width="40.63" height="33.39999999999998" fill="#2f4f9f"/>
<rect x="878.36" y="638.2" width="40.63" height="33.39999999999998" fill="#3b64ae"/>
<rect x="918.39" y="638.2" width="40.63" height="33.39999999999998" fill="#4f89c6"/>
<rect x="958.42" y="638.2" width="40.63" height="33.39999999999998" fill="#59b0e3"/>
<rect x="998.45" y="638.2" width="40.63" height="33.39999999999998" fill="#80c4ec"/>
<rect x="1038.48" y="638.2" width="40.63" height="33.39999999999998" fill="#a6d6f3"/>
<rect x="1078.51" y="638.2" width="40.63" height="33.39999999999998" fill="#d0e9f8"/>
<rect x="1118.54" y="638.2" width="40.63" height="33.39999999999998" fill="#fdfdfb"/>
<rect x="1158.56" y="638.2" width="40.63" height="33.39999999999998" fill="#fbeecb"/>
<rect x="1198.59" y="638.2" width="40.63" height="33.39999999999998" fill="#f7dd96"/>
<rect x="1238.62" y="638.2" width="40.63" height="33.39999999999998" fill="#f5cd62"/>
<rect x="1278.65" y="638.2" width="40.63" height="33.39999999999998" fill="#f3bf38"/>
<rect x="1318.68" y="638.2" width="40.63" height="33.39999999999998" fill="#ef9530"/>
<rect x="1358.71" y="638.2" width="40.63" height="33.39999999999998" fill="#ea6a27"/>
<rect x="1398.74" y="638.2" width="40.63" height="33.39999999999998" fill="#e5461f"/>
<rect x="1438.77" y="638.2" width="40.63" height="33.39999999999998" fill="#e02419"/>
<rect x="798.3" y="638.2" width="680.5" height="33.39999999999998" fill="none" stroke="#000" stroke-width="2.8"/>
<line x1="968.42" y1="671.60" x2="968.42" y2="659.60" stroke="#000" stroke-width="2.6" />
<line x1="1138.55" y1="671.60" x2="1138.55" y2="659.60" stroke="#000" stroke-width="2.6" />
<line x1="1308.67" y1="671.60" x2="1308.67" y2="659.60" stroke="#000" stroke-width="2.6" />
<text x="765.2" y="699.5" font-size="29.6" fill="#231815" text-anchor="start" font-weight="normal" textLength="48.5" lengthAdjust="spacingAndGlyphs" >−10</text>
<text x="948.6" y="699.5" font-size="29.6" fill="#231815" text-anchor="start" font-weight="normal" textLength="32" lengthAdjust="spacingAndGlyphs" >−5</text>
<text x="1130.6" y="699.5" font-size="29.6" fill="#231815" text-anchor="start" font-weight="normal" textLength="16.5" lengthAdjust="spacingAndGlyphs" >0</text>
<text x="1300.6" y="699.5" font-size="29.6" fill="#231815" text-anchor="start" font-weight="normal" textLength="16.5" lengthAdjust="spacingAndGlyphs" >5</text>
<text x="1458.2" y="699.5" font-size="29.6" fill="#231815" text-anchor="start" font-weight="normal" textLength="31" lengthAdjust="spacingAndGlyphs" >10</text>
<text x="919.3" y="729.1" font-size="29.6" fill="#231815" textLength="460" lengthAdjust="spacingAndGlyphs">Precipitation δ<tspan font-size="16" dy="-10.5">18</tspan><tspan dy="10.5">O change (IsoGSM2)</tspan></text>
<g clip-path="url(#cg)">
<rect x="796" y="846" width="684" height="396" fill="#d0e9f8"/>
<path d="M800.0,845.0 L801.7,915.0 L830.0,922.0 L860.0,930.0 L883.6,936.0 L920.0,941.0 L977.3,943.0 L1047.5,943.0 L1140.0,941.0 L1205.0,943.0 L1275.5,943.0 L1322.3,939.5 L1369.1,936.0 L1415.9,932.5 L1451.0,926.6 L1477.0,922.0 L1480.0,922.0 L1480.0,845.0 Z" fill="#fdfdfb" />
<path d="M800.0,845.0 L801.7,903.0 L830.0,909.0 L860.0,915.0 L883.6,921.0 L920.0,926.0 L977.3,929.0 L1047.5,930.0 L1140.0,928.0 L1205.0,926.6 L1275.5,923.0 L1345.7,918.4 L1392.5,912.6 L1439.4,904.4 L1477.0,899.7 L1480.0,899.7 L1480.0,845.0 L1312.9,845.0 L1312.9,849.0 L1298.9,851.7 L1275.5,858.7 L1228.6,865.8 L1181.8,869.3 L1140.0,872.8 L1094.4,870.4 L1059.2,863.4 L1047.5,854.0 L1042.8,849.0 L1042.8,845.0 Z" fill="#fbeecb" />
<path d="M801.7,849.8 L825.1,849.8 L848.5,863.4 L879.0,870.4 L914.1,879.8 L965.6,896.2 L930.5,907.9 L895.4,912.6 L871.9,907.9 L836.8,896.2 L801.7,896.2 Z" fill="#f7dd96" />
<path d="M1393.7,878.6 L1394.9,868.1 L1418.3,854.0 L1423.0,849.4 L1477.0,849.4 L1477.0,869.3 L1439.4,872.8 L1437.0,861.1 L1425.3,861.1 L1411.3,874.0 Z" fill="#f7dd96" />
<path d="M801.7,854.0 L820.4,854.0 L832.1,868.1 L836.8,879.8 L825.1,884.5 L801.7,883.3 Z" fill="#f5cd62" />
<path d="M867.3,872.8 L883.6,872.8 L907.1,884.5 L917.6,896.2 L895.4,903.2 L879.0,900.9 L867.3,886.8 Z" fill="#f5cd62" />
<path d="M1296.5,1045.1 L1298.9,1027.3 L1312.9,1003.9 L1329.3,985.2 L1336.3,980.5 L1392.5,979.3 L1439.4,978.1 L1477.0,974.6 L1477.0,1217.9 L1458.1,1210.9 L1455.7,1201.5 L1439.4,1194.5 L1437.0,1187.5 L1415.9,1185.2 L1404.2,1175.8 L1392.5,1161.7 L1390.2,1147.7 L1378.5,1143.0 L1380.8,1133.6 L1369.1,1126.6 L1357.4,1121.9 L1327.0,1110.2 L1320.0,1100.9 L1298.9,1091.5 L1296.5,1075.1 L1293.0,1054.0 L1294.2,1040.0 Z" fill="#fdfdfb" />
<path d="M801.7,1018.3 L811.7,1022.3 L827.8,1022.9 L835.1,1016.3 L840.5,1012.9 L848.5,1015.0 L857.9,1020.0 L861.9,1033.6 L875.3,1032.3 L902.0,1033.6 L910.0,1036.3 L915.4,1039.0 L916.1,1051.0 L934.1,1051.0 L935.2,1075.1 L942.2,1079.8 L953.1,1085.2 L967.2,1094.2 L975.2,1100.3 L980.2,1108.3 L987.2,1116.3 L995.3,1125.3 L1000.3,1135.4 L1005.4,1147.7 L1014.8,1157.1 L1024.1,1166.4 L1035.8,1180.5 L1047.5,1189.8 L1063.9,1194.5 L1082.6,1199.2 L1106.1,1201.5 L1140.0,1201.5 L1158.4,1201.5 L1181.8,1199.2 L1198.2,1196.9 L1216.9,1203.9 L1240.4,1217.9 L1275.5,1225.0 L1298.9,1229.6 L1322.3,1234.3 L1357.4,1237.8 L1369.1,1239.0 L1375.0,1245.0 L800.0,1245.0 L800.0,1018.3 Z" fill="#fdfdfb" />
<path d="M801.7,1160.6 L822.8,1151.2 L839.2,1148.9 L850.9,1133.6 L857.9,1123.1 L867.3,1121.9 L877.8,1133.6 L888.3,1136.0 L897.7,1150.0 L916.4,1150.0 L919.9,1136.0 L935.2,1133.6 L938.0,1120.0 L937.0,1080.0 L942.2,1082.0 L953.9,1088.0 L967.9,1095.0 L975.0,1106.0 L977.3,1117.3 L986.7,1121.9 L991.3,1133.6 L993.7,1147.7 L1000.7,1161.7 L1012.4,1171.1 L1019.4,1185.2 L1028.8,1194.5 L1042.8,1203.9 L1061.6,1208.6 L1078.0,1220.3 L1094.4,1227.3 L1117.8,1234.3 L1140.0,1237.8 L1145.0,1245.0 L800.0,1245.0 L800.0,1160.6 Z" fill="#fbeecb" />
<path d="M811.1,1143.0 L813.4,1124.3 L822.8,1114.9 L833.3,1120.8 L825.1,1133.6 L820.4,1144.2 Z" fill="#fbeecb" />
<path d="M855.6,1107.9 L876.6,1107.9 L876.6,1112.6 L860.2,1121.9 Z" fill="#fbeecb" />
<path d="M939.8,1164.1 L963.2,1157.1 L963.2,1161.7 L953.9,1168.8 Z" fill="#fdfdfb" />
<path d="M801.7,1217.9 L836.8,1220.3 L860.2,1220.3 L883.6,1208.6 L907.1,1199.2 L921.1,1192.2 L935.2,1192.2 L949.2,1208.6 L965.6,1192.2 L991.3,1180.5 L1007.7,1194.5 L1012.4,1203.9 L1028.8,1217.9 L1047.5,1227.3 L1059.2,1234.3 L1062.0,1245.0 L800.0,1245.0 L800.0,1217.9 Z" fill="#f7dd96" />
<path d="M977.3,1245.0 L977.3,1239.0 L991.3,1220.3 L1000.7,1227.3 L1005.4,1239.0 L1006.0,1245.0 Z" fill="#f5cd62" />
<path d="M956.2,1133.6 L975.0,1124.3 L989.0,1129.0 L991.3,1136.0 L977.3,1145.4 L958.6,1147.7 Z" fill="#f7dd96" />
<path d="M963.2,1133.6 L972.6,1126.6 L984.3,1133.6 L972.6,1143.0 Z" fill="#f5cd62" />
<path d="M967.9,1134.8 L972.6,1131.3 L977.3,1136.0 L971.4,1139.5 Z" fill="#f3bf38" />
<circle cx="971.6" cy="1135.2" r="1.6" fill="#ea6a27"/>
<path d="M832.5,993.5 L839.1,996.2 L845.8,1001.5 L840.5,1004.2 L833.8,998.9 Z" fill="#fdfdfb" />
<path d="M801.7,947.0 L808.0,950.0 L806.0,960.0 L801.7,962.0 Z" fill="#fdfdfb" />
<path d="M875.3,972.1 L904.7,975.5 L935.5,974.1 L955.5,968.8 L995.0,965.4 L1060.0,958.0 L1135.0,950.0 L1170.1,951.2 L1205.2,952.4 L1240.4,959.4 L1261.4,966.4 L1264.9,980.5 L1261.4,992.2 L1252.1,1008.6 L1247.4,1022.6 L1252.1,1034.3 L1259.1,1045.1 L1262.0,1055.0 L1261.4,1070.4 L1256.7,1089.2 L1263.8,1100.9 L1262.6,1117.3 L1259.1,1131.3 L1240.4,1133.6 L1224.0,1138.3 L1200.6,1147.7 L1181.8,1157.1 L1158.4,1161.7 L1144.4,1171.1 L1135.0,1180.5 L1124.8,1185.2 L1106.1,1186.3 L1082.6,1182.8 L1059.2,1178.1 L1047.5,1171.1 L1033.5,1159.4 L1021.8,1150.0 L1010.1,1140.7 L1003.0,1133.0 L998.0,1123.0 L991.0,1114.0 L984.0,1106.0 L977.0,1097.0 L968.0,1089.0 L956.0,1082.0 L944.0,1074.0 L935.2,1066.0 L934.8,1070.0 L934.1,1051.0 L916.1,1051.0 L915.4,1037.7 L910.0,1028.3 L896.7,1024.3 L876.6,1020.3 L871.3,1009.6 L875.3,998.9 L871.9,980.1 Z" fill="#a6d6f3" />
<path d="M855.2,965.4 L865.9,966.8 L859.2,968.8 Z" fill="#a6d6f3" />
<path d="M943.5,1009.6 L960.9,1006.9 L955.5,1013.6 L948.9,1014.2 Z" fill="#d0e9f8" />
<path d="M908.7,1027.0 L916.0,1028.3 L940.1,1026.2 L966.9,1022.9 L980.3,1020.3 L985.6,1001.5 L1020.4,985.5 L1087.3,980.1 L1167.6,973.4 L1202.3,976.1 L1210.4,981.5 L1213.0,1006.9 L1207.7,1028.3 L1200.6,1040.0 L1202.3,1052.4 L1216.9,1063.4 L1233.3,1068.1 L1235.7,1082.1 L1238.0,1098.5 L1240.4,1105.6 L1235.7,1117.3 L1224.0,1126.6 L1205.2,1129.0 L1181.8,1133.6 L1163.1,1138.3 L1149.1,1143.0 L1135.0,1147.7 L1106.1,1150.0 L1082.6,1150.0 L1059.2,1145.4 L1047.5,1143.0 L1024.1,1138.3 L1010.0,1133.6 L1003.3,1126.4 L1000.3,1116.3 L995.3,1106.3 L987.2,1096.3 L979.2,1088.2 L969.2,1079.2 L957.1,1070.2 L945.1,1062.1 L935.2,1053.1 L934.1,1051.0 L916.1,1051.0 L915.4,1037.7 Z" fill="#80c4ec" />
<path d="M1020.4,1020.3 L1033.8,1009.6 L1060.5,1004.2 L1087.3,1001.5 L1127.4,1012.2 L1151.5,1022.9 L1140.8,1047.0 L1148.8,1065.8 L1167.6,1076.5 L1195.0,1086.0 L1202.9,1092.7 L1201.7,1105.6 L1191.2,1117.3 L1170.1,1124.3 L1140.0,1129.0 L1117.8,1131.0 L1100.7,1134.0 L1087.3,1127.3 L1073.9,1111.2 L1060.5,1100.5 L1049.8,1089.8 L1047.2,1073.8 L1046.4,1051.1 L1036.4,1045.0 L1037.0,1030.0 Z" fill="#59b0e3" />
<path d="M933.1,1038.1 L945.1,1036.1 L957.1,1034.0 L971.2,1038.1 L985.2,1041.1 L1000.3,1044.1 L1009.3,1050.1 L1022.0,1054.0 L1036.4,1046.0 L1046.4,1052.0 L1048.5,1062.0 L1048.0,1077.0 L1046.4,1090.2 L1045.4,1108.3 L1040.4,1124.3 L1029.4,1130.4 L1011.3,1130.4 L1006.3,1122.3 L1001.3,1110.3 L995.3,1100.3 L987.2,1090.2 L979.2,1085.2 L967.2,1076.2 L955.1,1066.2 L944.1,1057.1 L935.1,1049.1 Z" fill="#59b0e3" />
<path d="M1010.0,1024.3 L1019.7,1023.3 L1036.2,1031.1 L1037.2,1043.7 L1045.9,1051.5 L1029.4,1060.2 L1024.6,1054.4 L1010.0,1052.4 Z" fill="#80c4ec" />
<path d="M1046.9,1075.7 L1048.8,1076.7 L1051.7,1090.3 L1068.3,1089.3 L1076.0,1100.0 L1078.0,1111.7 L1092.5,1131.1 L1130.0,1139.8 L1100.0,1137.5 L1060.0,1136.5 L1029.4,1133.0 L1029.4,1131.1 L1042.0,1116.5 L1045.9,1106.8 Z" fill="#80c4ec" />
<path d="M942.1,1051.1 L954.1,1043.1 L971.2,1046.1 L985.2,1050.1 L1000.3,1057.1 L1010.3,1064.1 L1021.4,1071.2 L1027.4,1080.2 L1031.9,1092.2 L1032.4,1106.3 L1028.4,1112.3 L1020.3,1120.3 L1011.3,1124.3 L1008.3,1116.3 L1005.3,1108.3 L1003.3,1102.3 L993.3,1094.2 L987.2,1088.2 L979.2,1080.2 L971.2,1076.2 L963.2,1072.2 L955.1,1064.1 L948.1,1060.1 Z" fill="#4f89c6" />
<path d="M1063.2,1033.6 L1071.2,1032.3 L1079.3,1037.7 L1067.2,1048.4 Z" fill="#4f89c6" />
<path d="M971.7,1059.1 L975.2,1063.1 L991.3,1061.1 L998.3,1065.1 L998.3,1074.2 L1011.3,1078.2 L1016.3,1090.2 L1015.3,1108.3 L1010.3,1111.3 L1008.3,1098.3 L1003.3,1094.2 L999.8,1093.2 L1005.3,1083.2 L991.3,1086.2 L988.2,1076.2 L978.2,1074.2 L971.2,1066.2 Z" fill="#3b64ae" />
<path d="M811.1,848.0 L807.6,863.4 L813.4,868.1 L829.8,877.5 L843.8,877.5 L853.2,877.5 L860.2,882.1 L864.9,886.8" fill="none" stroke="#000" stroke-width="2.2" stroke-linejoin="round"/>
<path d="M798.2,872.8 L804.0,878.6 L813.4,882.1 L832.1,884.5 L839.2,889.2 L840.3,891.5 L843.8,886.8 L850.9,882.1 L857.9,880.9 L862.6,883.3 L864.9,886.8" fill="none" stroke="#000" stroke-width="2.2" stroke-linejoin="round"/>
<path d="M873.1,896.2 L869.6,891.5 L864.9,886.8 L876.6,886.8 L879.0,882.1 L888.3,875.1 L893.0,870.4 L897.7,865.8 L907.1,862.2 L916.4,859.9 L921.1,857.6 L930.5,855.2 L934.0,857.6 L930.5,863.4 L928.1,872.8 L930.5,877.5 L935.2,879.8 L936.3,875.1 L932.8,865.8 L939.8,863.4 L945.7,861.1 L946.9,857.6 L949.2,859.9 L953.9,861.1 L960.9,862.2 L965.6,868.1 L977.3,869.3 L989.0,870.4 L1000.7,869.3 L1007.7,868.1 L1017.1,868.1 L1024.1,872.8 L1031.2,872.8 L1035.8,870.4 L1037.0,866.9 L1035.8,877.5 L1040.5,882.1 L1047.5,884.5 L1059.2,891.5 L1063.9,896.2 L1070.9,900.9 L1082.6,903.2 L1094.4,904.4 L1106.1,906.7 L1117.8,910.2 L1129.5,914.9 L1135.0,916.0 L1142.0,921.9 L1144.4,929.0 L1150.2,933.6 L1146.7,940.7 L1139.7,946.5 L1137.0,952.0 L1145.0,956.0 L1152.0,947.0 L1163.0,946.5 L1162.0,957.0 L1167.0,950.0 L1177.0,950.0 L1193.5,954.7 L1200.6,957.1 L1205.2,966.4 L1217.0,964.1 L1233.3,966.4 L1247.4,966.4 L1259.1,971.1 L1270.8,978.1 L1280.2,982.8 L1294.2,984.0 L1298.9,989.8 L1302.4,1003.9 L1298.9,1010.9 L1287.2,1012.1 L1298.9,1013.2 L1296.5,1017.9 L1284.8,1024.9 L1275.5,1032.0 L1266.1,1041.3 L1261.4,1045.1 L1259.1,1054.0 L1260.3,1063.4 L1256.7,1077.5 L1254.4,1086.8 L1247.4,1096.2 L1240.4,1103.2 L1238.0,1107.9 L1228.6,1110.2 L1224.0,1114.9 L1202.9,1116.1 L1193.5,1120.8 L1181.8,1124.3 L1170.1,1131.3 L1163.1,1136.0 L1163.1,1150.0 L1160.8,1154.7 L1149.0,1159.4 L1142.0,1168.8 L1135.0,1178.1 L1124.8,1182.8 L1113.1,1194.5 L1094.4,1201.5 L1080.3,1203.9 L1070.0,1201.0 L1064.0,1197.0 L1068.0,1203.0 L1080.0,1207.0 L1082.0,1214.0 L1080.0,1218.0 L1070.9,1222.0 L1059.0,1227.0 L1047.5,1230.8 L1028.0,1232.0 L1025.0,1234.3 L1027.0,1241.0" fill="none" stroke="#000" stroke-width="2.2" stroke-linejoin="round"/>
<path d="M873.1,896.2 L873.1,910.2 L874.3,919.6 L867.3,926.6 L862.6,929.0 L860.2,933.6 L855.6,938.3 L848.5,940.7 L843.8,945.4 L839.2,952.4 L836.8,959.4 L839.2,964.1 L846.2,966.4 L848.5,965.3 L843.8,971.1 L834.5,975.8 L832.1,980.5 L834.5,989.8 L836.8,994.5 L843.8,999.2 L851.2,1001.5 L857.9,1006.9 L861.9,1013.6 L865.9,1021.6 L871.3,1027.0 L877.9,1033.6 L880.1,1040.0 L884.8,1049.4 L893.0,1056.4 L907.1,1063.4 L921.1,1069.3 L935.2,1075.1 L943.3,1079.8 L944.5,1089.2 L945.7,1105.6 L943.3,1114.9 L942.2,1133.6 L939.8,1145.4 L936.3,1157.1 L932.8,1168.8 L931.6,1180.5 L930.5,1192.2 L925.8,1203.9 L918.8,1213.2 L911.7,1220.3 L910.6,1227.3 L912.9,1241.0" fill="none" stroke="#000" stroke-width="2.2" stroke-linejoin="round"/>
</g>
<rect x="798.2" y="848" width="3.5" height="392" fill="#fff"/>
<rect x="796.5" y="848.2" width="681.5" height="391.39999999999986" fill="none" stroke="#231815" stroke-width="2.8"/>
<line x1="796.50" y1="879.00" x2="808.50" y2="879.00" stroke="#231815" stroke-width="2.6" />
<line x1="1478.00" y1="879.00" x2="1466.00" y2="879.00" stroke="#231815" stroke-width="2.6" />
<line x1="796.50" y1="945.70" x2="808.50" y2="945.70" stroke="#231815" stroke-width="2.6" />
<line x1="1478.00" y1="945.70" x2="1466.00" y2="945.70" stroke="#231815" stroke-width="2.6" />
<line x1="796.50" y1="1012.20" x2="808.50" y2="1012.20" stroke="#231815" stroke-width="2.6" />
<line x1="1478.00" y1="1012.20" x2="1466.00" y2="1012.20" stroke="#231815" stroke-width="2.6" />
<line x1="796.50" y1="1078.70" x2="808.50" y2="1078.70" stroke="#231815" stroke-width="2.6" />
<line x1="1478.00" y1="1078.70" x2="1466.00" y2="1078.70" stroke="#231815" stroke-width="2.6" />
<line x1="796.50" y1="1145.00" x2="808.50" y2="1145.00" stroke="#231815" stroke-width="2.6" />
<line x1="1478.00" y1="1145.00" x2="1466.00" y2="1145.00" stroke="#231815" stroke-width="2.6" />
<line x1="796.50" y1="1211.30" x2="808.50" y2="1211.30" stroke="#231815" stroke-width="2.6" />
<line x1="1478.00" y1="1211.30" x2="1466.00" y2="1211.30" stroke="#231815" stroke-width="2.6" />
<line x1="897.50" y1="1239.60" x2="897.50" y2="1227.60" stroke="#231815" stroke-width="2.6" />
<line x1="1048.00" y1="1239.60" x2="1048.00" y2="1227.60" stroke="#231815" stroke-width="2.6" />
<line x1="1199.00" y1="1239.60" x2="1199.00" y2="1227.60" stroke="#231815" stroke-width="2.6" />
<line x1="1350.50" y1="1239.60" x2="1350.50" y2="1227.60" stroke="#231815" stroke-width="2.6" />
<line x1="897.50" y1="848.20" x2="897.50" y2="859.20" stroke="#231815" stroke-width="2.6" />
<line x1="1048.00" y1="848.20" x2="1048.00" y2="859.20" stroke="#231815" stroke-width="2.6" />
<line x1="1199.00" y1="848.20" x2="1199.00" y2="859.20" stroke="#231815" stroke-width="2.6" />
<line x1="1350.50" y1="848.20" x2="1350.50" y2="859.20" stroke="#231815" stroke-width="2.6" />
<text x="735.42" y="892.0" font-size="29.6" fill="#231815" textLength="48.81" lengthAdjust="spacingAndGlyphs">9°N</text>
<text x="749.83" y="957.4" font-size="29.6" fill="#231815" textLength="27.52" lengthAdjust="spacingAndGlyphs">0°</text>
<text x="736.45" y="1023.0" font-size="29.6" fill="#231815" textLength="46.24" lengthAdjust="spacingAndGlyphs">9°S</text>
<text x="725.82" y="1088.7" font-size="29.6" fill="#231815" textLength="61.02" lengthAdjust="spacingAndGlyphs">18°S</text>
<text x="725.47" y="1154.3" font-size="29.6" fill="#231815" textLength="61.37" lengthAdjust="spacingAndGlyphs">27°S</text>
<text x="725.86" y="1219.9" font-size="29.6" fill="#231815" textLength="60.97" lengthAdjust="spacingAndGlyphs">36°S</text>
<text x="868.08" y="1269.6" font-size="29.6" fill="#231815" textLength="68.92" lengthAdjust="spacingAndGlyphs">75°W</text>
<text x="1018.98" y="1269.6" font-size="29.6" fill="#231815" textLength="68.92" lengthAdjust="spacingAndGlyphs">60°W</text>
<text x="1168.43" y="1269.6" font-size="29.6" fill="#231815" textLength="69.26" lengthAdjust="spacingAndGlyphs">45°W</text>
<text x="1326.45" y="1269.6" font-size="29.6" fill="#231815" textLength="69.34" lengthAdjust="spacingAndGlyphs">30°W</text>
<text x="766.3" y="803.9" font-size="28" fill="#231815" text-anchor="start" font-weight="bold" >g</text>
<text x="1044.5" y="832.5" font-size="29.6" fill="#231815" text-anchor="start" font-weight="normal" textLength="185.4" lengthAdjust="spacingAndGlyphs" >DJF minus JJA</text>
<path d="M873.1,972.2 L876.3,980.8 L885.5,981.2 L878.3,986.9 L880.7,995.7 L873.1,990.7 L865.5,995.7 L867.9,986.9 L860.7,981.2 L869.9,980.8 Z" fill="#dc1f26" />
<path d="M1245.1,1027.3 L1248.3,1035.9 L1257.5,1036.3 L1250.3,1042.0 L1252.7,1050.8 L1245.1,1045.8 L1237.5,1050.8 L1239.9,1042.0 L1232.7,1036.3 L1241.9,1035.9 Z" fill="#dc1f26" />
<path d="M1149.0,1133.5 L1152.2,1142.1 L1161.4,1142.5 L1154.2,1148.2 L1156.6,1157.0 L1149.0,1152.0 L1141.4,1157.0 L1143.8,1148.2 L1136.6,1142.5 L1145.8,1142.1 Z" fill="#dc1f26" />
<text x="850.9" y="962.9" font-size="29.6" fill="#231815" text-anchor="start" font-weight="normal" textLength="256.3" lengthAdjust="spacingAndGlyphs" >Cueva Del Diamante</text>
<text x="951.5" y="996.4" font-size="29.6" fill="#231815" text-anchor="start" font-weight="normal" textLength="63.3" lengthAdjust="spacingAndGlyphs" >Cave</text>
<text x="1095.3" y="1012.0" font-size="29.6" fill="#231815" text-anchor="start" font-weight="normal" textLength="292.1" lengthAdjust="spacingAndGlyphs" >Marota &amp; Paixão Caves</text>
<text x="1172.5" y="1161.3" font-size="29.6" fill="#231815" text-anchor="start" font-weight="normal" textLength="183.7" lengthAdjust="spacingAndGlyphs" >Botuverá Cave</text>
<rect x="800.40" y="1294.6" width="40.55" height="33.700000000000045" fill="#26419a"/>
<rect x="840.35" y="1294.6" width="40.55" height="33.700000000000045" fill="#2f4f9f"/>
<rect x="880.29" y="1294.6" width="40.55" height="33.700000000000045" fill="#3b64ae"/>
<rect x="920.24" y="1294.6" width="40.55" height="33.700000000000045" fill="#4f89c6"/>
<rect x="960.19" y="1294.6" width="40.55" height="33.700000000000045" fill="#59b0e3"/>
<rect x="1000.14" y="1294.6" width="40.55" height="33.700000000000045" fill="#80c4ec"/>
<rect x="1040.08" y="1294.6" width="40.55" height="33.700000000000045" fill="#a6d6f3"/>
<rect x="1080.03" y="1294.6" width="40.55" height="33.700000000000045" fill="#d0e9f8"/>
<rect x="1119.98" y="1294.6" width="40.55" height="33.700000000000045" fill="#fdfdfb"/>
<rect x="1159.92" y="1294.6" width="40.55" height="33.700000000000045" fill="#fbeecb"/>
<rect x="1199.87" y="1294.6" width="40.55" height="33.700000000000045" fill="#f7dd96"/>
<rect x="1239.82" y="1294.6" width="40.55" height="33.700000000000045" fill="#f5cd62"/>
<rect x="1279.76" y="1294.6" width="40.55" height="33.700000000000045" fill="#f3bf38"/>
<rect x="1319.71" y="1294.6" width="40.55" height="33.700000000000045" fill="#ef9530"/>
<rect x="1359.66" y="1294.6" width="40.55" height="33.700000000000045" fill="#ea6a27"/>
<rect x="1399.61" y="1294.6" width="40.55" height="33.700000000000045" fill="#e5461f"/>
<rect x="1439.55" y="1294.6" width="40.55" height="33.700000000000045" fill="#e02419"/>
<rect x="800.4" y="1294.6" width="679.1" height="33.700000000000045" fill="none" stroke="#000" stroke-width="2.8"/>
<line x1="970.17" y1="1328.30" x2="970.17" y2="1316.30" stroke="#000" stroke-width="2.6" />
<line x1="1139.95" y1="1328.30" x2="1139.95" y2="1316.30" stroke="#000" stroke-width="2.6" />
<line x1="1309.72" y1="1328.30" x2="1309.72" y2="1316.30" stroke="#000" stroke-width="2.6" />
<text x="766.5" y="1355.5" font-size="29.6" fill="#231815" text-anchor="start" font-weight="normal" textLength="47.5" lengthAdjust="spacingAndGlyphs" >−10</text>
<text x="949.4" y="1355.5" font-size="29.6" fill="#231815" text-anchor="start" font-weight="normal" textLength="32" lengthAdjust="spacingAndGlyphs" >−5</text>
<text x="1130.6" y="1355.5" font-size="29.6" fill="#231815" text-anchor="start" font-weight="normal" textLength="17" lengthAdjust="spacingAndGlyphs" >0</text>
<text x="1302.6" y="1355.5" font-size="29.6" fill="#231815" text-anchor="start" font-weight="normal" textLength="16.5" lengthAdjust="spacingAndGlyphs" >5</text>
<text x="1465.1" y="1355.5" font-size="29.6" fill="#231815" text-anchor="start" font-weight="normal" textLength="31" lengthAdjust="spacingAndGlyphs" >10</text>
<text x="918.0" y="1389.0" font-size="29.6" fill="#231815" textLength="463" lengthAdjust="spacingAndGlyphs">Precipitation δ<tspan font-size="16" dy="-10.5">18</tspan><tspan dy="10.5">O change (IsoGSM2)</tspan></text>
<rect x="0.00" y="0.00" width="13.20" height="2.7" fill="#231815"/>
<rect x="36.80" y="0.00" width="23.40" height="2.7" fill="#231815"/>
<rect x="83.80" y="0.00" width="23.40" height="2.7" fill="#231815"/>
<rect x="130.80" y="0.00" width="23.40" height="2.7" fill="#231815"/>
<rect x="177.80" y="0.00" width="23.40" height="2.7" fill="#231815"/>
<rect x="224.80" y="0.00" width="23.40" height="2.7" fill="#231815"/>
<rect x="271.80" y="0.00" width="23.40" height="2.7" fill="#231815"/>
<rect x="318.80" y="0.00" width="23.40" height="2.7" fill="#231815"/>
<rect x="365.80" y="0.00" width="23.40" height="2.7" fill="#231815"/>
<rect x="412.80" y="0.00" width="23.40" height="2.7" fill="#231815"/>
<rect x="459.80" y="0.00" width="23.40" height="2.7" fill="#231815"/>
<rect x="506.80" y="0.00" width="23.40" height="2.7" fill="#231815"/>
<rect x="553.80" y="0.00" width="23.40" height="2.7" fill="#231815"/>
<rect x="600.80" y="0.00" width="23.40" height="2.7" fill="#231815"/>
<rect x="647.80" y="0.00" width="23.40" height="2.7" fill="#231815"/>
<rect x="694.80" y="0.00" width="13.60" height="2.7" fill="#231815"/>
<rect x="0.00" y="1491.15" width="13.20" height="2.9" fill="#231815"/>
<rect x="36.80" y="1491.15" width="23.40" height="2.9" fill="#231815"/>
<rect x="83.80" y="1491.15" width="23.40" height="2.9" fill="#231815"/>
<rect x="130.80" y="1491.15" width="23.40" height="2.9" fill="#231815"/>
<rect x="177.80" y="1491.15" width="23.40" height="2.9" fill="#231815"/>
<rect x="224.80" y="1491.15" width="23.40" height="2.9" fill="#231815"/>
<rect x="271.80" y="1491.15" width="23.40" height="2.9" fill="#231815"/>
<rect x="318.80" y="1491.15" width="23.40" height="2.9" fill="#231815"/>
<rect x="365.80" y="1491.15" width="23.40" height="2.9" fill="#231815"/>
<rect x="412.80" y="1491.15" width="23.40" height="2.9" fill="#231815"/>
<rect x="459.80" y="1491.15" width="23.40" height="2.9" fill="#231815"/>
<rect x="506.80" y="1491.15" width="23.40" height="2.9" fill="#231815"/>
<rect x="553.80" y="1491.15" width="23.40" height="2.9" fill="#231815"/>
<rect x="600.80" y="1491.15" width="23.40" height="2.9" fill="#231815"/>
<rect x="647.80" y="1491.15" width="23.40" height="2.9" fill="#231815"/>
<rect x="694.80" y="1491.15" width="13.60" height="2.9" fill="#231815"/>
<rect x="0.00" y="0.00" width="2.9" height="13.63" fill="#231815"/>
<rect x="0.00" y="38.20" width="2.9" height="23.50" fill="#231815"/>
<rect x="0.00" y="86.27" width="2.9" height="23.50" fill="#231815"/>
<rect x="0.00" y="134.34" width="2.9" height="23.50" fill="#231815"/>
<rect x="0.00" y="182.41" width="2.9" height="23.50" fill="#231815"/>
<rect x="0.00" y="230.48" width="2.9" height="23.50" fill="#231815"/>
<rect x="0.00" y="278.55" width="2.9" height="23.50" fill="#231815"/>
<rect x="0.00" y="326.62" width="2.9" height="23.50" fill="#231815"/>
<rect x="0.00" y="374.69" width="2.9" height="23.50" fill="#231815"/>
<rect x="0.00" y="422.76" width="2.9" height="23.50" fill="#231815"/>
<rect x="0.00" y="470.83" width="2.9" height="23.50" fill="#231815"/>
<rect x="0.00" y="518.90" width="2.9" height="23.50" fill="#231815"/>
<rect x="0.00" y="566.97" width="2.9" height="23.50" fill="#231815"/>
<rect x="0.00" y="615.04" width="2.9" height="23.50" fill="#231815"/>
<rect x="0.00" y="663.11" width="2.9" height="23.50" fill="#231815"/>
<rect x="0.00" y="711.18" width="2.9" height="23.50" fill="#231815"/>
<rect x="0.00" y="759.25" width="2.9" height="23.50" fill="#231815"/>
<rect x="0.00" y="807.32" width="2.9" height="23.50" fill="#231815"/>
<rect x="0.00" y="855.39" width="2.9" height="23.50" fill="#231815"/>
<rect x="0.00" y="903.46" width="2.9" height="23.50" fill="#231815"/>
<rect x="0.00" y="951.53" width="2.9" height="23.50" fill="#231815"/>
<rect x="0.00" y="999.60" width="2.9" height="23.50" fill="#231815"/>
<rect x="0.00" y="1047.67" width="2.9" height="23.50" fill="#231815"/>
<rect x="0.00" y="1095.74" width="2.9" height="23.50" fill="#231815"/>
<rect x="0.00" y="1143.81" width="2.9" height="23.50" fill="#231815"/>
<rect x="0.00" y="1191.88" width="2.9" height="23.50" fill="#231815"/>
<rect x="0.00" y="1239.95" width="2.9" height="23.50" fill="#231815"/>
<rect x="0.00" y="1288.02" width="2.9" height="23.50" fill="#231815"/>
<rect x="0.00" y="1336.09" width="2.9" height="23.50" fill="#231815"/>
<rect x="0.00" y="1384.16" width="2.9" height="23.50" fill="#231815"/>
<rect x="0.00" y="1432.23" width="2.9" height="23.50" fill="#231815"/>
<rect x="0.00" y="1480.30" width="2.9" height="13.70" fill="#231815"/>
<rect x="705.60" y="0.00" width="2.8" height="13.39" fill="#231815"/>
<rect x="705.60" y="37.50" width="2.8" height="24.00" fill="#231815"/>
<rect x="705.60" y="85.61" width="2.8" height="24.00" fill="#231815"/>
<rect x="705.60" y="133.72" width="2.8" height="24.00" fill="#231815"/>
<rect x="705.60" y="181.83" width="2.8" height="24.00" fill="#231815"/>
<rect x="705.60" y="229.94" width="2.8" height="24.00" fill="#231815"/>
<rect x="705.60" y="278.05" width="2.8" height="24.00" fill="#231815"/>
<rect x="705.60" y="326.16" width="2.8" height="24.00" fill="#231815"/>
<rect x="705.60" y="374.27" width="2.8" height="24.00" fill="#231815"/>
<rect x="705.60" y="422.38" width="2.8" height="24.00" fill="#231815"/>
<rect x="705.60" y="470.49" width="2.8" height="24.00" fill="#231815"/>
<rect x="705.60" y="518.60" width="2.8" height="24.00" fill="#231815"/>
<rect x="705.60" y="566.71" width="2.8" height="24.00" fill="#231815"/>
<rect x="705.60" y="614.82" width="2.8" height="24.00" fill="#231815"/>
<rect x="705.60" y="662.93" width="2.8" height="24.00" fill="#231815"/>
<rect x="705.60" y="711.04" width="2.8" height="24.00" fill="#231815"/>
<rect x="705.60" y="759.15" width="2.8" height="24.00" fill="#231815"/>
<rect x="705.60" y="807.26" width="2.8" height="24.00" fill="#231815"/>
<rect x="705.60" y="855.37" width="2.8" height="24.00" fill="#231815"/>
<rect x="705.60" y="903.48" width="2.8" height="24.00" fill="#231815"/>
<rect x="705.60" y="951.59" width="2.8" height="24.00" fill="#231815"/>
<rect x="705.60" y="999.70" width="2.8" height="24.00" fill="#231815"/>
<rect x="705.60" y="1047.81" width="2.8" height="24.00" fill="#231815"/>
<rect x="705.60" y="1095.92" width="2.8" height="24.00" fill="#231815"/>
<rect x="705.60" y="1144.03" width="2.8" height="24.00" fill="#231815"/>
<rect x="705.60" y="1192.14" width="2.8" height="24.00" fill="#231815"/>
<rect x="705.60" y="1240.25" width="2.8" height="24.00" fill="#231815"/>
<rect x="705.60" y="1288.36" width="2.8" height="24.00" fill="#231815"/>
<rect x="705.60" y="1336.47" width="2.8" height="24.00" fill="#231815"/>
<rect x="705.60" y="1384.58" width="2.8" height="24.00" fill="#231815"/>
<rect x="705.60" y="1432.69" width="2.8" height="24.00" fill="#231815"/>
<rect x="705.60" y="1480.80" width="2.8" height="13.20" fill="#231815"/>
</svg></body></html>
